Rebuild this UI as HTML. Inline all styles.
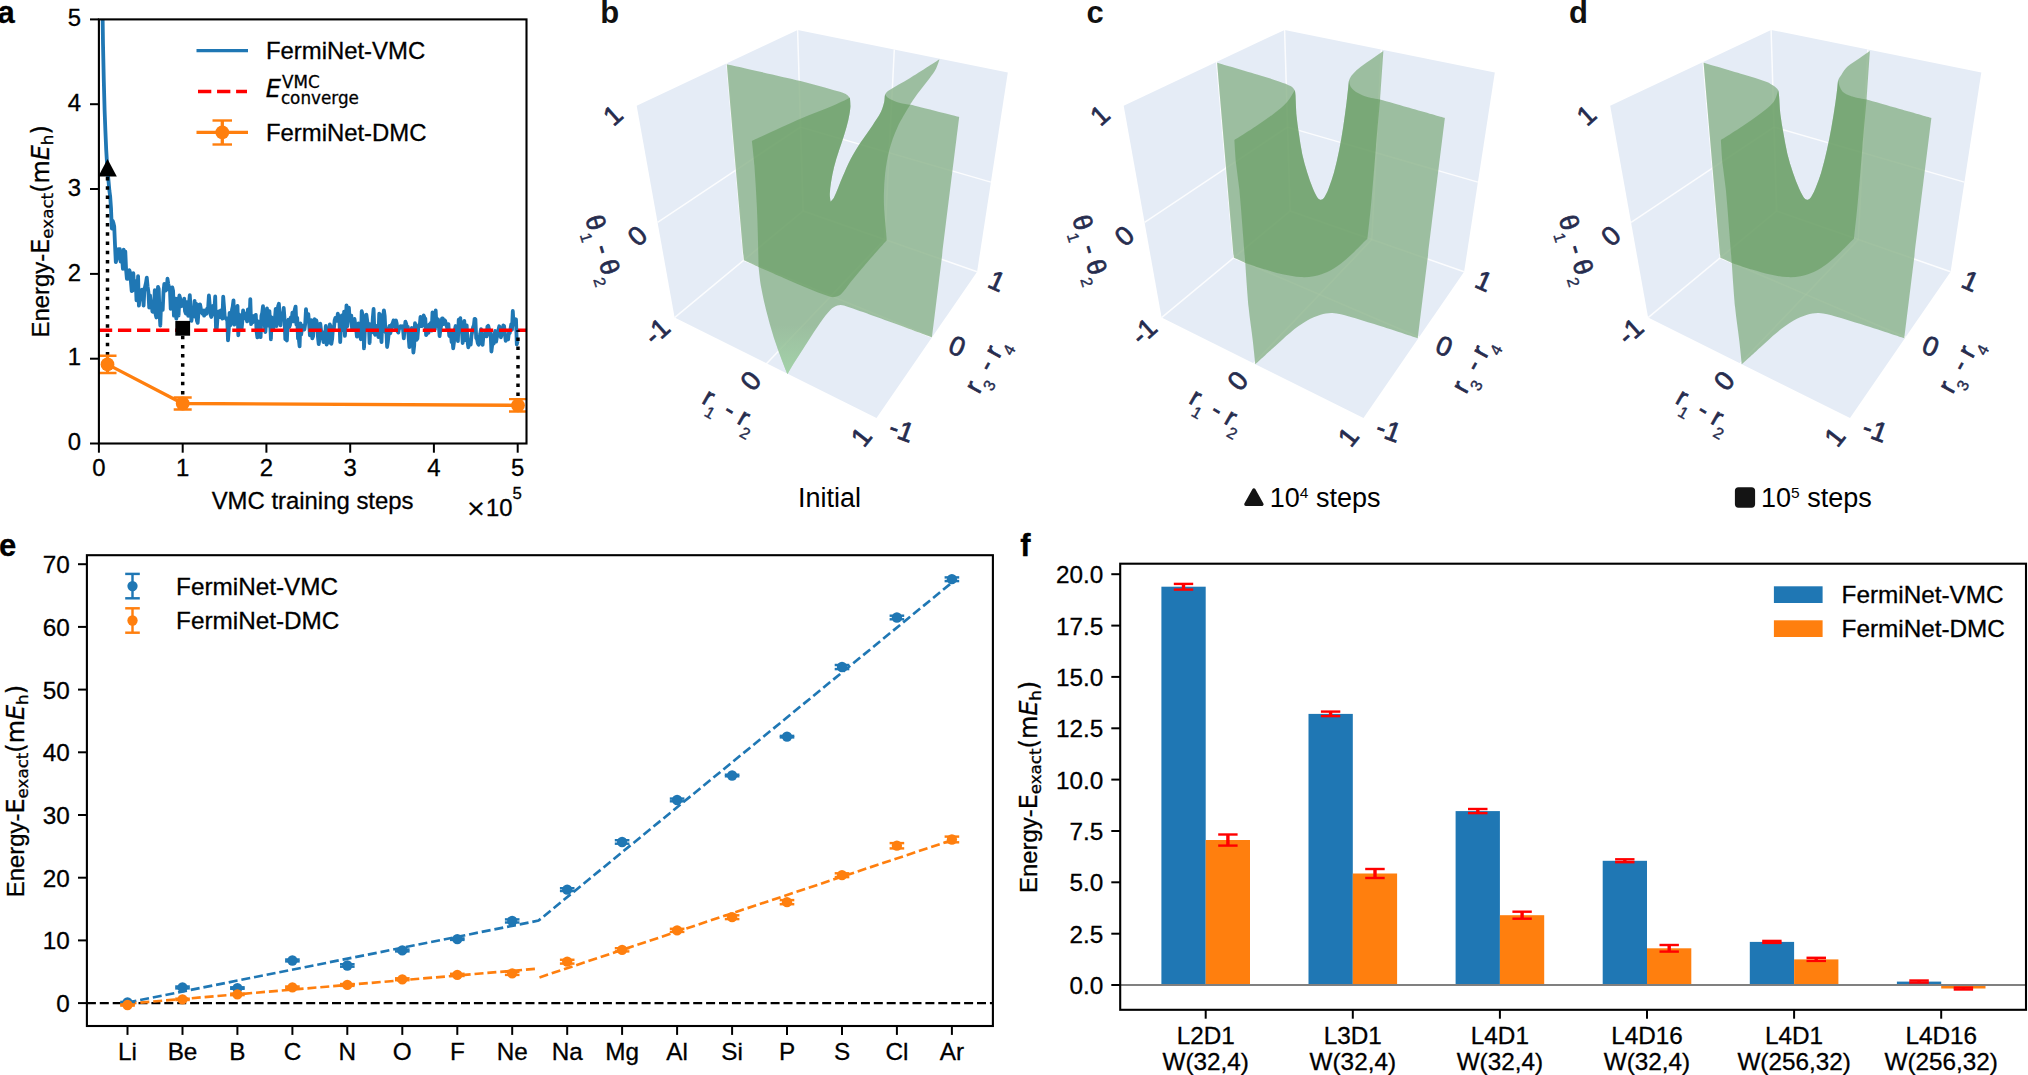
<!DOCTYPE html>
<html><head><meta charset="utf-8"><title>Figure</title>
<style>html,body{margin:0;padding:0;background:#fff;overflow:hidden}svg{display:block}.mp text{stroke:#000;stroke-width:0.3px}</style>
</head><body>
<svg width="2028" height="1075" viewBox="0 0 2028 1075" font-family="'Liberation Sans', sans-serif" fill="#000">
<rect width="2028" height="1075" fill="#fff"/>
<g class="mp">
<clipPath id="clipA"><rect x="98.9" y="19.4" width="427.6" height="424.1"/></clipPath>
<g clip-path="url(#clipA)">
<path d="M102.3 -6.0 L103.0 44.0 L103.8 80.8 L104.6 110.2 L105.4 131.1 L106.2 149.6 L107.0 163.2 L107.8 173.0 L108.6 182.0 L109.4 190.8 L110.2 196.8 L111.0 208.1 L111.8 228.5 L112.6 220.6 L113.4 222.9 L114.2 226.4 L115.0 244.9 L115.8 262.1 L116.6 259.5 L117.4 256.3 L118.2 249.2 L119.0 252.2 L119.8 249.2 L120.6 261.7 L121.3 257.7 L122.1 256.8 L122.9 268.8 L123.7 249.7 L124.5 254.4 L125.3 251.5 L126.1 270.1 L126.9 278.8 L127.7 278.8 L128.5 277.4 L129.3 270.2 L130.1 272.6 L130.9 281.7 L131.7 291.0 L132.5 290.6 L133.3 273.2 L134.1 288.8 L134.9 284.0 L135.7 281.1 L136.5 300.4 L137.3 291.8 L138.1 276.2 L138.9 305.6 L139.6 298.7 L140.4 294.4 L141.2 299.4 L142.0 289.7 L142.8 291.7 L143.6 305.6 L144.4 289.8 L145.2 286.2 L146.0 282.8 L146.8 277.6 L147.6 286.2 L148.4 292.0 L149.2 307.6 L150.0 295.3 L150.8 302.4 L151.6 303.6 L152.4 311.6 L153.2 311.8 L154.0 308.0 L154.8 290.1 L155.6 314.3 L156.4 317.5 L157.2 303.0 L158.0 286.8 L158.7 288.9 L159.5 312.2 L160.3 325.7 L161.1 303.8 L161.9 305.9 L162.7 309.8 L163.5 291.7 L164.3 283.9 L165.1 289.5 L165.9 290.4 L166.7 289.4 L167.5 278.7 L168.3 284.1 L169.1 287.3 L169.9 288.6 L170.7 308.9 L171.5 290.3 L172.3 287.4 L173.1 290.9 L173.9 315.6 L174.7 312.6 L175.5 298.7 L176.3 318.7 L177.0 311.4 L177.8 298.4 L178.6 315.7 L179.4 295.5 L180.2 298.5 L181.0 306.3 L181.8 305.0 L182.6 301.8 L183.4 305.9 L184.2 298.6 L185.0 311.1 L185.8 313.5 L186.6 302.1 L187.4 306.6 L188.2 315.8 L189.0 303.7 L189.8 295.2 L190.6 308.4 L191.4 320.9 L192.2 315.1 L193.0 313.5 L193.8 314.4 L194.6 300.8 L195.3 316.8 L196.1 303.6 L196.9 320.6 L197.7 322.9 L198.5 312.2 L199.3 304.6 L200.1 304.5 L200.9 308.9 L201.7 312.4 L202.5 313.6 L203.3 310.5 L204.1 315.7 L204.9 313.7 L205.7 310.3 L206.5 313.8 L207.3 308.4 L208.1 308.0 L208.9 295.5 L209.7 305.0 L210.5 314.4 L211.3 317.0 L212.1 314.7 L212.9 305.9 L213.7 313.3 L214.4 309.8 L215.2 296.5 L216.0 328.8 L216.8 328.1 L217.6 316.6 L218.4 311.5 L219.2 311.3 L220.0 317.1 L220.8 310.3 L221.6 311.3 L222.4 318.7 L223.2 296.7 L224.0 306.6 L224.8 317.8 L225.6 318.1 L226.4 319.3 L227.2 318.4 L228.0 340.4 L228.8 329.3 L229.6 312.8 L230.4 325.1 L231.2 320.1 L232.0 309.7 L232.7 306.7 L233.5 300.3 L234.3 324.7 L235.1 321.9 L235.9 320.9 L236.7 312.6 L237.5 305.8 L238.3 335.3 L239.1 314.3 L239.9 328.4 L240.7 315.9 L241.5 330.1 L242.3 321.5 L243.1 310.3 L243.9 318.0 L244.7 318.3 L245.5 313.6 L246.3 317.8 L247.1 321.4 L247.9 309.3 L248.7 309.3 L249.5 320.6 L250.3 299.1 L251.1 324.1 L251.8 315.6 L252.6 322.3 L253.4 321.2 L254.2 315.8 L255.0 317.8 L255.8 314.9 L256.6 331.8 L257.4 337.4 L258.2 321.5 L259.0 329.1 L259.8 332.3 L260.6 337.1 L261.4 316.0 L262.2 313.1 L263.0 306.1 L263.8 324.1 L264.6 322.7 L265.4 332.0 L266.2 319.6 L267.0 308.5 L267.8 325.6 L268.6 311.2 L269.4 311.1 L270.1 320.9 L270.9 339.4 L271.7 317.5 L272.5 322.4 L273.3 328.2 L274.1 321.7 L274.9 319.1 L275.7 308.8 L276.5 326.1 L277.3 313.8 L278.1 306.4 L278.9 303.8 L279.7 316.4 L280.5 325.4 L281.3 313.6 L282.1 317.1 L282.9 318.2 L283.7 307.8 L284.5 318.4 L285.3 339.3 L286.1 330.9 L286.9 340.5 L287.7 321.8 L288.4 319.8 L289.2 327.2 L290.0 325.0 L290.8 317.5 L291.6 321.5 L292.4 312.7 L293.2 321.4 L294.0 315.4 L294.8 309.6 L295.6 306.6 L296.4 324.6 L297.2 317.9 L298.0 338.5 L298.8 339.0 L299.6 346.4 L300.4 323.4 L301.2 334.5 L302.0 328.1 L302.8 327.2 L303.6 325.5 L304.4 329.6 L305.2 324.1 L306.0 309.2 L306.8 318.8 L307.5 318.2 L308.3 314.2 L309.1 323.1 L309.9 335.4 L310.7 334.1 L311.5 320.2 L312.3 338.4 L313.1 336.3 L313.9 322.3 L314.7 319.3 L315.5 325.0 L316.3 320.4 L317.1 324.1 L317.9 336.6 L318.7 344.1 L319.5 338.8 L320.3 323.7 L321.1 330.6 L321.9 335.6 L322.7 335.9 L323.5 342.1 L324.3 332.2 L325.1 337.3 L325.8 326.0 L326.6 344.6 L327.4 328.5 L328.2 330.9 L329.0 342.7 L329.8 324.5 L330.6 326.5 L331.4 343.8 L332.2 338.6 L333.0 327.3 L333.8 329.8 L334.6 320.6 L335.4 317.8 L336.2 317.8 L337.0 320.8 L337.8 313.6 L338.6 316.8 L339.4 319.8 L340.2 342.1 L341.0 324.9 L341.8 315.4 L342.6 325.4 L343.4 330.2 L344.1 311.6 L344.9 335.9 L345.7 325.5 L346.5 305.4 L347.3 326.3 L348.1 319.9 L348.9 307.6 L349.7 320.1 L350.5 318.7 L351.3 315.5 L352.1 329.6 L352.9 327.9 L353.7 324.3 L354.5 318.9 L355.3 324.5 L356.1 328.1 L356.9 336.6 L357.7 334.4 L358.5 323.5 L359.3 326.5 L360.1 335.8 L360.9 339.2 L361.7 311.2 L362.5 314.2 L363.2 319.5 L364.0 348.4 L364.8 331.5 L365.6 326.7 L366.4 314.7 L367.2 320.8 L368.0 326.9 L368.8 323.8 L369.6 343.2 L370.4 324.8 L371.2 324.1 L372.0 332.3 L372.8 318.1 L373.6 309.0 L374.4 332.6 L375.2 334.8 L376.0 327.6 L376.8 326.1 L377.6 330.5 L378.4 337.1 L379.2 313.7 L380.0 314.7 L380.8 334.0 L381.5 342.1 L382.3 319.6 L383.1 317.8 L383.9 310.3 L384.7 316.1 L385.5 332.2 L386.3 328.3 L387.1 347.0 L387.9 341.6 L388.7 333.7 L389.5 325.8 L390.3 333.3 L391.1 330.5 L391.9 324.5 L392.7 323.2 L393.5 320.4 L394.3 322.5 L395.1 327.2 L395.9 320.3 L396.7 323.5 L397.5 331.3 L398.3 332.6 L399.1 328.5 L399.8 328.1 L400.6 326.2 L401.4 327.0 L402.2 326.3 L403.0 328.7 L403.8 338.4 L404.6 329.3 L405.4 321.6 L406.2 323.8 L407.0 329.5 L407.8 326.8 L408.6 336.7 L409.4 347.2 L410.2 336.0 L411.0 339.6 L411.8 328.0 L412.6 337.7 L413.4 352.6 L414.2 345.6 L415.0 323.2 L415.8 330.0 L416.6 339.8 L417.4 338.5 L418.2 328.3 L418.9 324.9 L419.7 326.1 L420.5 316.8 L421.3 319.5 L422.1 326.2 L422.9 324.0 L423.7 315.5 L424.5 317.9 L425.3 318.6 L426.1 335.1 L426.9 334.0 L427.7 327.1 L428.5 332.7 L429.3 324.4 L430.1 325.1 L430.9 323.0 L431.7 330.6 L432.5 312.3 L433.3 315.6 L434.1 327.6 L434.9 329.2 L435.7 310.5 L436.5 325.9 L437.2 321.7 L438.0 319.2 L438.8 325.4 L439.6 336.2 L440.4 329.5 L441.2 325.7 L442.0 318.4 L442.8 318.4 L443.6 324.2 L444.4 320.0 L445.2 321.0 L446.0 324.1 L446.8 326.4 L447.6 329.7 L448.4 324.1 L449.2 335.5 L450.0 336.5 L450.8 332.2 L451.6 342.0 L452.4 337.8 L453.2 348.3 L454.0 341.9 L454.8 330.2 L455.6 326.0 L456.3 329.2 L457.1 331.5 L457.9 341.1 L458.7 319.7 L459.5 322.0 L460.3 318.2 L461.1 331.7 L461.9 331.0 L462.7 343.0 L463.5 327.5 L464.3 320.9 L465.1 340.1 L465.9 332.9 L466.7 325.4 L467.5 341.1 L468.3 347.3 L469.1 344.0 L469.9 339.9 L470.7 344.6 L471.5 335.7 L472.3 331.2 L473.1 327.0 L473.9 325.3 L474.6 318.8 L475.4 319.2 L476.2 338.2 L477.0 338.8 L477.8 343.1 L478.6 344.7 L479.4 337.6 L480.2 334.2 L481.0 329.2 L481.8 342.9 L482.6 344.8 L483.4 336.0 L484.2 334.0 L485.0 333.9 L485.8 331.9 L486.6 336.3 L487.4 326.6 L488.2 325.8 L489.0 328.9 L489.8 334.4 L490.6 332.7 L491.4 351.5 L492.2 345.1 L492.9 335.3 L493.7 343.7 L494.5 333.9 L495.3 331.0 L496.1 341.7 L496.9 337.0 L497.7 335.9 L498.5 329.7 L499.3 326.3 L500.1 329.9 L500.9 337.3 L501.7 334.3 L502.5 332.4 L503.3 325.5 L504.1 326.1 L504.9 333.7 L505.7 340.9 L506.5 335.8 L507.3 336.5 L508.1 339.4 L508.9 332.8 L509.7 333.2 L510.5 328.8 L511.3 324.1 L512.0 329.7 L512.8 311.0 L513.6 324.8 L514.4 319.0 L515.2 324.7 L516.0 319.5 L516.8 344.4 L517.6 341.1" fill="none" stroke="#1f77b4" stroke-width="3.8" stroke-linejoin="round" stroke-linecap="butt"/>
<line x1="98.9" y1="330.3" x2="526.5" y2="330.3" stroke="#ff0000" stroke-width="3.6" stroke-dasharray="13.3 5.75"/>
<line x1="107.5" y1="364.6" x2="107.5" y2="168" stroke="#000" stroke-width="3.5" stroke-dasharray="3.5 5.7"/>
<line x1="182.7" y1="403.6" x2="182.7" y2="328.3" stroke="#000" stroke-width="3.5" stroke-dasharray="3.5 5.7"/>
<line x1="518" y1="405.3" x2="518" y2="330.3" stroke="#000" stroke-width="3.5" stroke-dasharray="3.5 5.7"/>
<polyline points="107.5,364.4 182.7,403.5 518.0,405.3" fill="none" stroke="#ff7f0e" stroke-width="3.3"/>
<line x1="107.5" y1="355.8" x2="107.5" y2="373" stroke="#ff7f0e" stroke-width="3.3" />
<line x1="98.5" y1="355.8" x2="116.5" y2="355.8" stroke="#ff7f0e" stroke-width="2.4" />
<line x1="98.5" y1="373" x2="116.5" y2="373" stroke="#ff7f0e" stroke-width="2.4" />
<circle cx="107.5" cy="364.4" r="6.9" fill="#ff7f0e"/>
<line x1="182.7" y1="397.5" x2="182.7" y2="409.5" stroke="#ff7f0e" stroke-width="3.3" />
<line x1="173.7" y1="397.5" x2="191.7" y2="397.5" stroke="#ff7f0e" stroke-width="2.4" />
<line x1="173.7" y1="409.5" x2="191.7" y2="409.5" stroke="#ff7f0e" stroke-width="2.4" />
<circle cx="182.7" cy="403.5" r="6.9" fill="#ff7f0e"/>
<line x1="518" y1="399.1" x2="518" y2="411.5" stroke="#ff7f0e" stroke-width="3.3" />
<line x1="509" y1="399.1" x2="527" y2="399.1" stroke="#ff7f0e" stroke-width="2.4" />
<line x1="509" y1="411.5" x2="527" y2="411.5" stroke="#ff7f0e" stroke-width="2.4" />
<circle cx="518" cy="405.3" r="6.9" fill="#ff7f0e"/>
<polygon points="107.5,158.9 98.3,176.6 116.8,176.6" fill="#000"/>
<rect x="175.3" y="320.9" width="14.8" height="14.8" fill="#000"/>
</g>
<rect x="98.9" y="19.4" width="427.6" height="424.1" fill="none" stroke="#000" stroke-width="2.1"/>
<line x1="90" y1="443.5" x2="98.9" y2="443.5" stroke="#000" stroke-width="2.0" />
<text x="81" y="450.1" font-size="23.9" text-anchor="end" >0</text>
<line x1="98.9" y1="443.5" x2="98.9" y2="452.7" stroke="#000" stroke-width="2.0" />
<text x="98.9" y="475.6" font-size="23.9" text-anchor="middle" >0</text>
<line x1="90" y1="358.7" x2="98.9" y2="358.7" stroke="#000" stroke-width="2.0" />
<text x="81" y="365.3" font-size="23.9" text-anchor="end" >1</text>
<line x1="182.7" y1="443.5" x2="182.7" y2="452.7" stroke="#000" stroke-width="2.0" />
<text x="182.7" y="475.6" font-size="23.9" text-anchor="middle" >1</text>
<line x1="90" y1="273.9" x2="98.9" y2="273.9" stroke="#000" stroke-width="2.0" />
<text x="81" y="280.5" font-size="23.9" text-anchor="end" >2</text>
<line x1="266.4" y1="443.5" x2="266.4" y2="452.7" stroke="#000" stroke-width="2.0" />
<text x="266.4" y="475.6" font-size="23.9" text-anchor="middle" >2</text>
<line x1="90" y1="189" x2="98.9" y2="189" stroke="#000" stroke-width="2.0" />
<text x="81" y="195.6" font-size="23.9" text-anchor="end" >3</text>
<line x1="350.2" y1="443.5" x2="350.2" y2="452.7" stroke="#000" stroke-width="2.0" />
<text x="350.2" y="475.6" font-size="23.9" text-anchor="middle" >3</text>
<line x1="90" y1="104.2" x2="98.9" y2="104.2" stroke="#000" stroke-width="2.0" />
<text x="81" y="110.8" font-size="23.9" text-anchor="end" >4</text>
<line x1="433.9" y1="443.5" x2="433.9" y2="452.7" stroke="#000" stroke-width="2.0" />
<text x="433.9" y="475.6" font-size="23.9" text-anchor="middle" >4</text>
<line x1="90" y1="19.4" x2="98.9" y2="19.4" stroke="#000" stroke-width="2.0" />
<text x="81" y="26" font-size="23.9" text-anchor="end" >5</text>
<line x1="517.7" y1="443.5" x2="517.7" y2="452.7" stroke="#000" stroke-width="2.0" />
<text x="517.7" y="475.6" font-size="23.9" text-anchor="middle" >5</text>
<text x="312.6" y="509.1" font-size="23.9" text-anchor="middle" >VMC training steps</text>
<text x="466" y="515.6" font-size="23.8"><tspan font-family="'DejaVu Sans', sans-serif">×</tspan><tspan>10</tspan><tspan dy="-16.8" font-size="16.8">5</tspan></text>
<text transform="translate(49 335.5) rotate(-90)" x="-1.9" y="0" font-size="23.9">Energy-<tspan font-family="'DejaVu Sans', sans-serif">E</tspan><tspan font-family="'DejaVu Sans', sans-serif" font-size="16.7" dy="4.0">exact</tspan><tspan font-family="'DejaVu Sans', sans-serif" dy="-4.0">(m</tspan><tspan font-family="'DejaVu Sans', sans-serif" font-style="italic">E</tspan><tspan font-family="'DejaVu Sans', sans-serif" font-size="16.7" dy="4.0">h</tspan><tspan font-family="'DejaVu Sans', sans-serif" dy="-4.0">)</tspan></text>
<line x1="196.5" y1="50.7" x2="248" y2="50.7" stroke="#1f77b4" stroke-width="3.3" />
<text x="265.9" y="59.1" font-size="23.9" text-anchor="start" >FermiNet-VMC</text>
<line x1="198" y1="91.5" x2="247" y2="91.5" stroke="#ff0000" stroke-width="3.6" stroke-dasharray="13.3 5.75"/>
<text x="265.8" y="97.4" font-size="24" font-style="italic" font-family="'DejaVu Sans', sans-serif">E</text>
<text x="282.1" y="88.4" font-size="16.8" font-family="'DejaVu Sans', sans-serif">VMC</text>
<text x="280.9" y="103.8" font-size="16.8" font-family="'DejaVu Sans', sans-serif">converge</text>
<line x1="196.5" y1="132.4" x2="248" y2="132.4" stroke="#ff7f0e" stroke-width="3.3" />
<line x1="222.3" y1="120.5" x2="222.3" y2="144.5" stroke="#ff7f0e" stroke-width="3.3" />
<line x1="212.5" y1="120.5" x2="232" y2="120.5" stroke="#ff7f0e" stroke-width="2.4" />
<line x1="212.5" y1="144.5" x2="232" y2="144.5" stroke="#ff7f0e" stroke-width="2.4" />
<circle cx="222.3" cy="132.4" r="6.9" fill="#ff7f0e"/>
<text x="265.9" y="141" font-size="23.9" text-anchor="start" >FermiNet-DMC</text>
<text x="-2.4" y="22.8" font-size="31" text-anchor="start" font-weight="bold">a</text>
</g>
<polygon points="636.7,105.7 797.6,29.9 1007.8,72.5 977.1,271.7 876.5,418.1 674.6,317.6" fill="#e5ecf6"/>
<line x1="797.6" y1="29.9" x2="803.1" y2="211" stroke="#fff" stroke-width="1.5" stroke-opacity="0.85"/>
<line x1="674.6" y1="317.6" x2="803.1" y2="211" stroke="#fff" stroke-width="1.5" stroke-opacity="0.85"/>
<line x1="803.1" y1="211" x2="977.1" y2="271.7" stroke="#fff" stroke-width="1.5" stroke-opacity="0.85"/>
<line x1="657.6" y1="222.4" x2="800.5" y2="127.1" stroke="#fff" stroke-width="1.5" stroke-opacity="0.85"/>
<line x1="800.5" y1="127.1" x2="990.9" y2="182.1" stroke="#fff" stroke-width="1.5" stroke-opacity="0.85"/>
<line x1="726.8" y1="63.3" x2="743.9" y2="260.3" stroke="#fff" stroke-width="1.5" stroke-opacity="0.85"/>
<line x1="894.3" y1="49.5" x2="884.8" y2="239.5" stroke="#fff" stroke-width="1.5" stroke-opacity="0.85"/>
<line x1="743.9" y1="260.3" x2="932" y2="337.3" stroke="#fff" stroke-width="1.5" stroke-opacity="0.85"/>
<line x1="766.2" y1="364.1" x2="884.8" y2="239.5" stroke="#fff" stroke-width="1.5" stroke-opacity="0.85"/>
<clipPath id="cu1"><path d="M726.8 64.3 C726.8 64.3 776.0 75.1 800.5 81.0 C811.8 83.7 822.9 87.0 834.0 90.2 C837.9 91.3 842.0 92.1 845.7 93.9 C847.4 94.7 849.9 97.8 849.9 97.8 C849.9 97.8 850.6 103.9 850.4 107.0 C850.1 111.5 849.2 116.0 848.2 120.4 C847.1 125.5 845.5 130.5 844.0 135.5 C842.5 140.5 840.6 145.5 839.0 150.5 C837.2 156.1 835.4 161.6 834.0 167.3 C832.8 172.3 831.8 177.3 831.0 182.4 C830.4 186.3 829.9 190.2 829.8 194.1 C829.7 196.6 830.6 201.6 830.6 201.6 C830.6 201.6 833.2 199.0 834.0 197.4 C837.2 190.9 839.5 184.0 842.4 177.3 C845.1 171.1 847.6 164.9 850.7 158.9 C853.7 153.1 857.3 147.7 860.8 142.2 C864.5 136.5 868.7 131.1 872.5 125.4 C875.4 121.0 878.5 116.7 880.9 112.0 C882.5 108.9 883.4 105.4 884.2 102.0 C884.8 99.5 884.1 96.7 885.1 94.4 C885.9 92.6 887.6 91.3 889.2 90.2 C895.7 85.9 902.7 82.6 909.3 78.5 C919.5 72.3 939.5 59.3 939.5 59.3 C939.5 59.3 937.6 65.6 936.1 68.5 C934.2 72.1 931.8 75.3 929.4 78.5 C925.6 83.6 921.5 88.5 917.7 93.6 C915.1 97.1 910.2 104.5 910.2 104.5 C910.2 104.5 959.2 117.0 959.2 117.0 C959.2 117.0 932.0 337.3 932.0 337.3 C932.0 337.3 873.6 315.4 844.0 305.5 C841.9 304.8 839.4 304.8 837.3 305.5 C834.8 306.3 832.5 307.8 830.6 309.7 C826.8 313.5 823.7 317.9 820.6 322.3 C815.9 328.8 811.6 335.7 807.2 342.4 C802.7 349.3 798.2 356.3 793.8 363.3 C791.6 366.9 787.4 374.2 787.4 374.2 C787.4 374.2 783.8 365.3 782.1 360.8 C779.2 353.0 776.2 345.2 773.7 337.3 C770.9 328.5 768.5 319.5 766.2 310.5 C764.3 302.8 762.5 295.0 761.1 287.1 C759.9 280.4 758.6 267.0 758.6 267.0 C758.6 267.0 743.9 260.3 743.9 260.3 C743.9 260.3 726.8 64.3 726.8 64.3Z"/></clipPath>
<path d="M726.8 64.3 C726.8 64.3 776.0 75.1 800.5 81.0 C811.8 83.7 822.9 87.0 834.0 90.2 C837.9 91.3 842.0 92.1 845.7 93.9 C847.4 94.7 849.9 97.8 849.9 97.8 C849.9 97.8 850.6 103.9 850.4 107.0 C850.1 111.5 849.2 116.0 848.2 120.4 C847.1 125.5 845.5 130.5 844.0 135.5 C842.5 140.5 840.6 145.5 839.0 150.5 C837.2 156.1 835.4 161.6 834.0 167.3 C832.8 172.3 831.8 177.3 831.0 182.4 C830.4 186.3 829.9 190.2 829.8 194.1 C829.7 196.6 830.6 201.6 830.6 201.6 C830.6 201.6 833.2 199.0 834.0 197.4 C837.2 190.9 839.5 184.0 842.4 177.3 C845.1 171.1 847.6 164.9 850.7 158.9 C853.7 153.1 857.3 147.7 860.8 142.2 C864.5 136.5 868.7 131.1 872.5 125.4 C875.4 121.0 878.5 116.7 880.9 112.0 C882.5 108.9 883.4 105.4 884.2 102.0 C884.8 99.5 884.1 96.7 885.1 94.4 C885.9 92.6 887.6 91.3 889.2 90.2 C895.7 85.9 902.7 82.6 909.3 78.5 C919.5 72.3 939.5 59.3 939.5 59.3 C939.5 59.3 937.6 65.6 936.1 68.5 C934.2 72.1 931.8 75.3 929.4 78.5 C925.6 83.6 921.5 88.5 917.7 93.6 C915.1 97.1 910.2 104.5 910.2 104.5 C910.2 104.5 959.2 117.0 959.2 117.0 C959.2 117.0 932.0 337.3 932.0 337.3 C932.0 337.3 873.6 315.4 844.0 305.5 C841.9 304.8 839.4 304.8 837.3 305.5 C834.8 306.3 832.5 307.8 830.6 309.7 C826.8 313.5 823.7 317.9 820.6 322.3 C815.9 328.8 811.6 335.7 807.2 342.4 C802.7 349.3 798.2 356.3 793.8 363.3 C791.6 366.9 787.4 374.2 787.4 374.2 C787.4 374.2 783.8 365.3 782.1 360.8 C779.2 353.0 776.2 345.2 773.7 337.3 C770.9 328.5 768.5 319.5 766.2 310.5 C764.3 302.8 762.5 295.0 761.1 287.1 C759.9 280.4 758.6 267.0 758.6 267.0 C758.6 267.0 743.9 260.3 743.9 260.3 C743.9 260.3 726.8 64.3 726.8 64.3Z" fill="#e5ecf6"/>
<g clip-path="url(#cu1)">
<line x1="797.6" y1="29.9" x2="803.1" y2="211" stroke="#fff" stroke-width="1.5" stroke-opacity="0.4"/>
<line x1="674.6" y1="317.6" x2="803.1" y2="211" stroke="#fff" stroke-width="1.5" stroke-opacity="0.4"/>
<line x1="803.1" y1="211" x2="977.1" y2="271.7" stroke="#fff" stroke-width="1.5" stroke-opacity="0.4"/>
<line x1="657.6" y1="222.4" x2="800.5" y2="127.1" stroke="#fff" stroke-width="1.5" stroke-opacity="0.4"/>
<line x1="800.5" y1="127.1" x2="990.9" y2="182.1" stroke="#fff" stroke-width="1.5" stroke-opacity="0.4"/>
<line x1="726.8" y1="63.3" x2="743.9" y2="260.3" stroke="#fff" stroke-width="1.5" stroke-opacity="0.4"/>
<line x1="894.3" y1="49.5" x2="884.8" y2="239.5" stroke="#fff" stroke-width="1.5" stroke-opacity="0.4"/>
<line x1="743.9" y1="260.3" x2="932" y2="337.3" stroke="#fff" stroke-width="1.5" stroke-opacity="0.4"/>
<line x1="766.2" y1="364.1" x2="884.8" y2="239.5" stroke="#fff" stroke-width="1.5" stroke-opacity="0.4"/>
</g>
<path d="M726.8 64.3 C726.8 64.3 776.0 75.1 800.5 81.0 C811.8 83.7 822.9 87.0 834.0 90.2 C837.9 91.3 842.0 92.1 845.7 93.9 C847.4 94.7 849.9 97.8 849.9 97.8 C849.9 97.8 850.6 103.9 850.4 107.0 C850.1 111.5 849.2 116.0 848.2 120.4 C847.1 125.5 845.5 130.5 844.0 135.5 C842.5 140.5 840.6 145.5 839.0 150.5 C837.2 156.1 835.4 161.6 834.0 167.3 C832.8 172.3 831.8 177.3 831.0 182.4 C830.4 186.3 829.9 190.2 829.8 194.1 C829.7 196.6 830.6 201.6 830.6 201.6 C830.6 201.6 833.2 199.0 834.0 197.4 C837.2 190.9 839.5 184.0 842.4 177.3 C845.1 171.1 847.6 164.9 850.7 158.9 C853.7 153.1 857.3 147.7 860.8 142.2 C864.5 136.5 868.7 131.1 872.5 125.4 C875.4 121.0 878.5 116.7 880.9 112.0 C882.5 108.9 883.4 105.4 884.2 102.0 C884.8 99.5 884.1 96.7 885.1 94.4 C885.9 92.6 887.6 91.3 889.2 90.2 C895.7 85.9 902.7 82.6 909.3 78.5 C919.5 72.3 939.5 59.3 939.5 59.3 C939.5 59.3 937.6 65.6 936.1 68.5 C934.2 72.1 931.8 75.3 929.4 78.5 C925.6 83.6 921.5 88.5 917.7 93.6 C915.1 97.1 910.2 104.5 910.2 104.5 C910.2 104.5 959.2 117.0 959.2 117.0 C959.2 117.0 932.0 337.3 932.0 337.3 C932.0 337.3 873.6 315.4 844.0 305.5 C841.9 304.8 839.4 304.8 837.3 305.5 C834.8 306.3 832.5 307.8 830.6 309.7 C826.8 313.5 823.7 317.9 820.6 322.3 C815.9 328.8 811.6 335.7 807.2 342.4 C802.7 349.3 798.2 356.3 793.8 363.3 C791.6 366.9 787.4 374.2 787.4 374.2 C787.4 374.2 783.8 365.3 782.1 360.8 C779.2 353.0 776.2 345.2 773.7 337.3 C770.9 328.5 768.5 319.5 766.2 310.5 C764.3 302.8 762.5 295.0 761.1 287.1 C759.9 280.4 758.6 267.0 758.6 267.0 C758.6 267.0 743.9 260.3 743.9 260.3 C743.9 260.3 726.8 64.3 726.8 64.3Z" fill="rgb(90,149,84)" fill-opacity="0.53"/>
<path d="M751.9 141.0 C751.9 141.0 784.2 125.8 800.5 118.7 C811.5 113.9 822.9 110.0 834.0 105.3 C839.4 103.0 849.9 97.8 849.9 97.8 C849.9 97.8 850.6 103.9 850.4 107.0 C850.1 111.5 849.2 116.0 848.2 120.4 C847.1 125.5 845.5 130.5 844.0 135.5 C842.5 140.5 840.6 145.5 839.0 150.5 C837.2 156.1 835.4 161.6 834.0 167.3 C832.8 172.3 831.8 177.3 831.0 182.4 C830.4 186.3 829.9 190.2 829.8 194.1 C829.7 196.6 830.6 201.6 830.6 201.6 C830.6 201.6 833.2 199.0 834.0 197.4 C837.2 190.9 839.5 184.0 842.4 177.3 C845.1 171.1 847.6 164.9 850.7 158.9 C853.7 153.1 857.3 147.7 860.8 142.2 C864.5 136.5 868.7 131.1 872.5 125.4 C875.4 121.0 878.5 116.7 880.9 112.0 C882.5 108.9 883.4 105.4 884.2 102.0 C884.8 99.5 885.1 94.4 885.1 94.4 C885.1 94.4 886.6 96.7 887.6 97.5 C889.1 98.7 890.8 99.5 892.6 100.3 C895.3 101.5 898.1 102.6 901.0 103.3 C904.0 104.1 910.2 104.8 910.2 104.8 C910.2 104.8 901.2 119.3 897.6 127.1 C894.1 134.6 891.3 142.5 889.2 150.5 C887.2 158.2 886.1 166.1 885.1 174.0 C884.3 180.7 884.1 187.4 883.9 194.1 C883.8 199.4 883.9 204.7 884.2 210.0 C884.6 216.7 885.3 223.4 885.9 230.1 C886.2 233.5 886.7 240.2 886.7 240.2 C886.7 240.2 873.8 254.7 867.5 262.0 C861.8 268.6 856.2 275.4 850.7 282.1 C847.3 286.2 844.7 291.0 840.7 294.6 C838.9 296.2 836.4 296.9 834.0 297.1 C831.7 297.3 829.5 296.5 827.3 295.8 C821.1 293.7 815.0 291.3 808.9 288.8 C800.4 285.3 792.1 281.5 783.7 277.9 C775.3 274.3 758.6 267.0 758.6 267.0 C758.6 267.0 758.1 244.7 757.8 233.5 C757.6 224.8 757.3 216.2 756.9 207.5 C756.2 193.5 755.4 179.6 754.4 165.6 C753.8 157.4 751.9 141.0 751.9 141.0Z" fill="rgb(90,149,84)" fill-opacity="0.53"/>
<defs><linearGradient id="tailg" x1="0" y1="325" x2="0" y2="374" gradientUnits="userSpaceOnUse"><stop offset="0" stop-color="#a9e3b0" stop-opacity="0"/><stop offset="1" stop-color="#a9e3b0" stop-opacity="0.55"/></linearGradient></defs>
<polygon points="769.5,325 773.7,337.3 782.1,360.8 787.4,374.2 793.8,363.3 807.2,342.4 818.5,325" fill="url(#tailg)"/>
<text transform="translate(612.6 115) rotate(-42)" text-anchor="middle" font-size="27" fill="#262c4e" stroke="#262c4e" stroke-width="0.7" y="9.7">1</text>
<text transform="translate(637.2 235.6) rotate(-42)" text-anchor="middle" font-size="27" fill="#262c4e" stroke="#262c4e" stroke-width="0.7" y="9.7">0</text>
<text transform="translate(656.6 331.1) rotate(-42)" text-anchor="middle" font-size="27" fill="#262c4e" stroke="#262c4e" stroke-width="0.7" y="9.7">-1</text>
<text transform="translate(604.3 249) rotate(73)" text-anchor="middle" font-size="26" fill="#262c4e" stroke="#262c4e" stroke-width="0.7" y="9.4">θ<tspan dy="10" font-size="16" stroke-width="0.4">1</tspan><tspan dy="-10"> - θ</tspan><tspan dy="10" font-size="16" stroke-width="0.4">2</tspan></text>
<text transform="translate(750.3 380.6) rotate(-50)" text-anchor="middle" font-size="27" fill="#262c4e" stroke="#262c4e" stroke-width="0.7" y="9.7">0</text>
<text transform="translate(860.9 436.7) rotate(-52)" text-anchor="middle" font-size="27" fill="#262c4e" stroke="#262c4e" stroke-width="0.7" y="9.7">1</text>
<text transform="translate(730.6 408.8) rotate(30)" text-anchor="middle" font-size="26" fill="#262c4e" stroke="#262c4e" stroke-width="0.7" y="9.4">r<tspan dy="10" font-size="16" stroke-width="0.4">1</tspan><tspan dy="-10"> - r</tspan><tspan dy="10" font-size="16" stroke-width="0.4">2</tspan></text>
<text transform="translate(901.8 429.6) rotate(20)" text-anchor="middle" font-size="27" fill="#262c4e" stroke="#262c4e" stroke-width="0.7" y="9.7">-1</text>
<text transform="translate(957.3 345.9) rotate(22)" text-anchor="middle" font-size="27" fill="#262c4e" stroke="#262c4e" stroke-width="0.7" y="9.7">0</text>
<text transform="translate(997.1 280.6) rotate(24)" text-anchor="middle" font-size="27" fill="#262c4e" stroke="#262c4e" stroke-width="0.7" y="9.7">1</text>
<text transform="translate(985 364.7) rotate(-61)" text-anchor="middle" font-size="26" fill="#262c4e" stroke="#262c4e" stroke-width="0.7" y="9.4">r<tspan dy="10" font-size="16" stroke-width="0.4">3</tspan><tspan dy="-10"> - r</tspan><tspan dy="10" font-size="16" stroke-width="0.4">4</tspan></text>
<polygon points="1123.7,105.7 1284.6,29.9 1494.8,72.5 1464.1,271.7 1363.5,418.1 1161.6,317.6" fill="#e5ecf6"/>
<line x1="1284.6" y1="29.9" x2="1290.1" y2="211" stroke="#fff" stroke-width="1.5" stroke-opacity="0.85"/>
<line x1="1161.6" y1="317.6" x2="1290.1" y2="211" stroke="#fff" stroke-width="1.5" stroke-opacity="0.85"/>
<line x1="1290.1" y1="211" x2="1464.1" y2="271.7" stroke="#fff" stroke-width="1.5" stroke-opacity="0.85"/>
<line x1="1144.6" y1="222.4" x2="1287.5" y2="127.1" stroke="#fff" stroke-width="1.5" stroke-opacity="0.85"/>
<line x1="1287.5" y1="127.1" x2="1477.9" y2="182.1" stroke="#fff" stroke-width="1.5" stroke-opacity="0.85"/>
<line x1="1216.6" y1="61.7" x2="1233.9" y2="257.8" stroke="#fff" stroke-width="1.5" stroke-opacity="0.85"/>
<line x1="1381.3" y1="49.5" x2="1371.8" y2="239.5" stroke="#fff" stroke-width="1.5" stroke-opacity="0.85"/>
<line x1="1233.9" y1="257.8" x2="1419" y2="337.3" stroke="#fff" stroke-width="1.5" stroke-opacity="0.85"/>
<line x1="1253.2" y1="364.1" x2="1371.8" y2="239.5" stroke="#fff" stroke-width="1.5" stroke-opacity="0.85"/>
<clipPath id="cu2"><path d="M1217.1 62.7 C1217.1 62.7 1243.7 70.4 1257.0 74.4 C1264.8 76.8 1272.7 79.2 1280.4 81.9 C1283.8 83.1 1287.4 84.3 1290.5 86.1 C1292.2 87.1 1293.8 88.6 1294.7 90.3 C1295.5 91.8 1295.4 93.6 1295.5 95.3 C1295.9 101.4 1295.8 107.6 1296.3 113.7 C1296.9 120.4 1297.9 127.1 1298.9 133.8 C1299.9 140.5 1300.8 147.3 1302.2 153.9 C1303.5 160.1 1305.3 166.3 1307.2 172.4 C1308.9 178.0 1311.0 183.6 1313.1 189.1 C1314.0 191.3 1315.0 193.5 1316.2 195.6 C1316.8 196.7 1317.5 197.8 1318.4 198.7 C1319.1 199.3 1320.8 199.9 1320.8 199.9 C1320.8 199.9 1322.5 199.3 1323.2 198.7 C1324.1 197.8 1324.8 196.7 1325.4 195.6 C1326.8 192.9 1328.0 190.2 1329.0 187.4 C1330.8 182.5 1332.6 177.5 1334.0 172.4 C1336.0 165.2 1337.6 157.9 1339.1 150.6 C1340.7 142.8 1342.0 135.0 1343.2 127.1 C1344.5 118.8 1345.5 110.4 1346.6 102.0 C1347.2 97.0 1347.7 91.9 1348.3 86.9 C1348.6 84.7 1348.4 82.3 1349.1 80.2 C1349.8 78.1 1351.0 76.1 1352.5 74.4 C1355.0 71.6 1357.9 69.1 1360.8 66.8 C1364.6 63.8 1368.7 61.3 1372.6 58.5 C1376.2 56.0 1383.4 50.9 1383.4 50.9 C1383.4 50.9 1380.1 99.5 1380.1 99.5 C1380.1 99.5 1444.9 117.9 1444.9 117.9 C1444.9 117.9 1417.8 338.2 1417.8 338.2 C1417.8 338.2 1388.8 328.6 1374.2 324.0 C1365.9 321.4 1357.6 318.6 1349.1 316.4 C1343.6 315.0 1338.1 313.4 1332.4 313.1 C1328.4 312.9 1324.4 313.7 1320.6 314.8 C1315.9 316.2 1311.4 318.1 1307.2 320.6 C1301.3 324.0 1295.8 328.1 1290.5 332.4 C1284.6 337.1 1279.3 342.4 1273.7 347.4 C1267.5 353.0 1255.3 364.2 1255.3 364.2 C1255.3 364.2 1253.7 348.5 1252.8 340.7 C1251.5 329.5 1249.7 318.4 1248.6 307.2 C1247.2 292.5 1245.3 262.9 1245.3 262.9 C1245.3 262.9 1233.9 257.8 1233.9 257.8 C1233.9 257.8 1217.1 62.7 1217.1 62.7Z"/></clipPath>
<path d="M1217.1 62.7 C1217.1 62.7 1243.7 70.4 1257.0 74.4 C1264.8 76.8 1272.7 79.2 1280.4 81.9 C1283.8 83.1 1287.4 84.3 1290.5 86.1 C1292.2 87.1 1293.8 88.6 1294.7 90.3 C1295.5 91.8 1295.4 93.6 1295.5 95.3 C1295.9 101.4 1295.8 107.6 1296.3 113.7 C1296.9 120.4 1297.9 127.1 1298.9 133.8 C1299.9 140.5 1300.8 147.3 1302.2 153.9 C1303.5 160.1 1305.3 166.3 1307.2 172.4 C1308.9 178.0 1311.0 183.6 1313.1 189.1 C1314.0 191.3 1315.0 193.5 1316.2 195.6 C1316.8 196.7 1317.5 197.8 1318.4 198.7 C1319.1 199.3 1320.8 199.9 1320.8 199.9 C1320.8 199.9 1322.5 199.3 1323.2 198.7 C1324.1 197.8 1324.8 196.7 1325.4 195.6 C1326.8 192.9 1328.0 190.2 1329.0 187.4 C1330.8 182.5 1332.6 177.5 1334.0 172.4 C1336.0 165.2 1337.6 157.9 1339.1 150.6 C1340.7 142.8 1342.0 135.0 1343.2 127.1 C1344.5 118.8 1345.5 110.4 1346.6 102.0 C1347.2 97.0 1347.7 91.9 1348.3 86.9 C1348.6 84.7 1348.4 82.3 1349.1 80.2 C1349.8 78.1 1351.0 76.1 1352.5 74.4 C1355.0 71.6 1357.9 69.1 1360.8 66.8 C1364.6 63.8 1368.7 61.3 1372.6 58.5 C1376.2 56.0 1383.4 50.9 1383.4 50.9 C1383.4 50.9 1380.1 99.5 1380.1 99.5 C1380.1 99.5 1444.9 117.9 1444.9 117.9 C1444.9 117.9 1417.8 338.2 1417.8 338.2 C1417.8 338.2 1388.8 328.6 1374.2 324.0 C1365.9 321.4 1357.6 318.6 1349.1 316.4 C1343.6 315.0 1338.1 313.4 1332.4 313.1 C1328.4 312.9 1324.4 313.7 1320.6 314.8 C1315.9 316.2 1311.4 318.1 1307.2 320.6 C1301.3 324.0 1295.8 328.1 1290.5 332.4 C1284.6 337.1 1279.3 342.4 1273.7 347.4 C1267.5 353.0 1255.3 364.2 1255.3 364.2 C1255.3 364.2 1253.7 348.5 1252.8 340.7 C1251.5 329.5 1249.7 318.4 1248.6 307.2 C1247.2 292.5 1245.3 262.9 1245.3 262.9 C1245.3 262.9 1233.9 257.8 1233.9 257.8 C1233.9 257.8 1217.1 62.7 1217.1 62.7Z" fill="#e5ecf6"/>
<g clip-path="url(#cu2)">
<line x1="1284.6" y1="29.9" x2="1290.1" y2="211" stroke="#fff" stroke-width="1.5" stroke-opacity="0.4"/>
<line x1="1161.6" y1="317.6" x2="1290.1" y2="211" stroke="#fff" stroke-width="1.5" stroke-opacity="0.4"/>
<line x1="1290.1" y1="211" x2="1464.1" y2="271.7" stroke="#fff" stroke-width="1.5" stroke-opacity="0.4"/>
<line x1="1144.6" y1="222.4" x2="1287.5" y2="127.1" stroke="#fff" stroke-width="1.5" stroke-opacity="0.4"/>
<line x1="1287.5" y1="127.1" x2="1477.9" y2="182.1" stroke="#fff" stroke-width="1.5" stroke-opacity="0.4"/>
<line x1="1216.6" y1="61.7" x2="1233.9" y2="257.8" stroke="#fff" stroke-width="1.5" stroke-opacity="0.4"/>
<line x1="1381.3" y1="49.5" x2="1371.8" y2="239.5" stroke="#fff" stroke-width="1.5" stroke-opacity="0.4"/>
<line x1="1233.9" y1="257.8" x2="1419" y2="337.3" stroke="#fff" stroke-width="1.5" stroke-opacity="0.4"/>
<line x1="1253.2" y1="364.1" x2="1371.8" y2="239.5" stroke="#fff" stroke-width="1.5" stroke-opacity="0.4"/>
</g>
<path d="M1217.1 62.7 C1217.1 62.7 1243.7 70.4 1257.0 74.4 C1264.8 76.8 1272.7 79.2 1280.4 81.9 C1283.8 83.1 1287.4 84.3 1290.5 86.1 C1292.2 87.1 1293.8 88.6 1294.7 90.3 C1295.5 91.8 1295.4 93.6 1295.5 95.3 C1295.9 101.4 1295.8 107.6 1296.3 113.7 C1296.9 120.4 1297.9 127.1 1298.9 133.8 C1299.9 140.5 1300.8 147.3 1302.2 153.9 C1303.5 160.1 1305.3 166.3 1307.2 172.4 C1308.9 178.0 1311.0 183.6 1313.1 189.1 C1314.0 191.3 1315.0 193.5 1316.2 195.6 C1316.8 196.7 1317.5 197.8 1318.4 198.7 C1319.1 199.3 1320.8 199.9 1320.8 199.9 C1320.8 199.9 1322.5 199.3 1323.2 198.7 C1324.1 197.8 1324.8 196.7 1325.4 195.6 C1326.8 192.9 1328.0 190.2 1329.0 187.4 C1330.8 182.5 1332.6 177.5 1334.0 172.4 C1336.0 165.2 1337.6 157.9 1339.1 150.6 C1340.7 142.8 1342.0 135.0 1343.2 127.1 C1344.5 118.8 1345.5 110.4 1346.6 102.0 C1347.2 97.0 1347.7 91.9 1348.3 86.9 C1348.6 84.7 1348.4 82.3 1349.1 80.2 C1349.8 78.1 1351.0 76.1 1352.5 74.4 C1355.0 71.6 1357.9 69.1 1360.8 66.8 C1364.6 63.8 1368.7 61.3 1372.6 58.5 C1376.2 56.0 1383.4 50.9 1383.4 50.9 C1383.4 50.9 1380.1 99.5 1380.1 99.5 C1380.1 99.5 1444.9 117.9 1444.9 117.9 C1444.9 117.9 1417.8 338.2 1417.8 338.2 C1417.8 338.2 1388.8 328.6 1374.2 324.0 C1365.9 321.4 1357.6 318.6 1349.1 316.4 C1343.6 315.0 1338.1 313.4 1332.4 313.1 C1328.4 312.9 1324.4 313.7 1320.6 314.8 C1315.9 316.2 1311.4 318.1 1307.2 320.6 C1301.3 324.0 1295.8 328.1 1290.5 332.4 C1284.6 337.1 1279.3 342.4 1273.7 347.4 C1267.5 353.0 1255.3 364.2 1255.3 364.2 C1255.3 364.2 1253.7 348.5 1252.8 340.7 C1251.5 329.5 1249.7 318.4 1248.6 307.2 C1247.2 292.5 1245.3 262.9 1245.3 262.9 C1245.3 262.9 1233.9 257.8 1233.9 257.8 C1233.9 257.8 1217.1 62.7 1217.1 62.7Z" fill="rgb(90,149,84)" fill-opacity="0.53"/>
<path d="M1234.4 140.0 C1234.4 140.0 1249.6 130.5 1257.0 125.5 C1262.7 121.7 1268.3 117.9 1273.7 113.7 C1278.4 110.1 1283.1 106.4 1287.1 102.0 C1290.2 98.5 1294.7 90.3 1294.7 90.3 C1294.7 90.3 1295.4 93.6 1295.5 95.3 C1295.9 101.4 1295.8 107.6 1296.3 113.7 C1296.9 120.4 1297.9 127.1 1298.9 133.8 C1299.9 140.5 1300.8 147.3 1302.2 153.9 C1303.5 160.1 1305.3 166.3 1307.2 172.4 C1308.9 178.0 1311.0 183.6 1313.1 189.1 C1314.0 191.3 1315.0 193.5 1316.2 195.6 C1316.8 196.7 1317.5 197.8 1318.4 198.7 C1319.1 199.3 1320.8 199.9 1320.8 199.9 C1320.8 199.9 1322.5 199.3 1323.2 198.7 C1324.1 197.8 1324.8 196.7 1325.4 195.6 C1326.8 192.9 1328.0 190.2 1329.0 187.4 C1330.8 182.5 1332.6 177.5 1334.0 172.4 C1336.0 165.2 1337.6 157.9 1339.1 150.6 C1340.7 142.8 1342.0 135.0 1343.2 127.1 C1344.5 118.8 1345.5 110.4 1346.6 102.0 C1347.2 97.0 1347.7 91.9 1348.3 86.9 C1348.6 84.7 1349.1 80.2 1349.1 80.2 C1349.1 80.2 1349.5 85.0 1350.8 86.9 C1352.5 89.4 1355.0 91.3 1357.5 92.8 C1360.6 94.7 1364.0 96.0 1367.5 97.0 C1371.6 98.2 1380.1 99.5 1380.1 99.5 C1380.1 99.5 1377.3 131.3 1375.9 147.2 C1374.5 164.0 1373.2 180.7 1371.7 197.5 C1371.2 203.4 1370.6 209.2 1370.0 215.1 C1369.2 222.9 1367.5 238.6 1367.5 238.6 C1367.5 238.6 1358.7 247.7 1354.1 252.0 C1349.8 256.1 1345.4 260.1 1340.7 263.7 C1336.5 266.9 1332.1 269.9 1327.3 272.1 C1323.1 274.1 1318.5 275.4 1313.9 276.3 C1309.5 277.1 1305.0 277.4 1300.5 277.1 C1294.9 276.8 1289.3 275.8 1283.8 274.6 C1277.6 273.3 1271.5 271.4 1265.4 269.6 C1258.6 267.5 1245.3 262.9 1245.3 262.9 C1245.3 262.9 1243.6 242.2 1242.8 231.9 C1241.7 217.9 1240.8 203.9 1239.4 190.0 C1238.5 181.3 1237.0 172.7 1236.1 164.0 C1235.3 156.0 1234.4 140.0 1234.4 140.0Z" fill="rgb(90,149,84)" fill-opacity="0.53"/>
<text transform="translate(1099.6 115) rotate(-42)" text-anchor="middle" font-size="27" fill="#262c4e" stroke="#262c4e" stroke-width="0.7" y="9.7">1</text>
<text transform="translate(1124.2 235.6) rotate(-42)" text-anchor="middle" font-size="27" fill="#262c4e" stroke="#262c4e" stroke-width="0.7" y="9.7">0</text>
<text transform="translate(1143.6 331.1) rotate(-42)" text-anchor="middle" font-size="27" fill="#262c4e" stroke="#262c4e" stroke-width="0.7" y="9.7">-1</text>
<text transform="translate(1091.3 249) rotate(73)" text-anchor="middle" font-size="26" fill="#262c4e" stroke="#262c4e" stroke-width="0.7" y="9.4">θ<tspan dy="10" font-size="16" stroke-width="0.4">1</tspan><tspan dy="-10"> - θ</tspan><tspan dy="10" font-size="16" stroke-width="0.4">2</tspan></text>
<text transform="translate(1237.3 380.6) rotate(-50)" text-anchor="middle" font-size="27" fill="#262c4e" stroke="#262c4e" stroke-width="0.7" y="9.7">0</text>
<text transform="translate(1347.9 436.7) rotate(-52)" text-anchor="middle" font-size="27" fill="#262c4e" stroke="#262c4e" stroke-width="0.7" y="9.7">1</text>
<text transform="translate(1217.6 408.8) rotate(30)" text-anchor="middle" font-size="26" fill="#262c4e" stroke="#262c4e" stroke-width="0.7" y="9.4">r<tspan dy="10" font-size="16" stroke-width="0.4">1</tspan><tspan dy="-10"> - r</tspan><tspan dy="10" font-size="16" stroke-width="0.4">2</tspan></text>
<text transform="translate(1388.8 429.6) rotate(20)" text-anchor="middle" font-size="27" fill="#262c4e" stroke="#262c4e" stroke-width="0.7" y="9.7">-1</text>
<text transform="translate(1444.3 345.9) rotate(22)" text-anchor="middle" font-size="27" fill="#262c4e" stroke="#262c4e" stroke-width="0.7" y="9.7">0</text>
<text transform="translate(1484.1 280.6) rotate(24)" text-anchor="middle" font-size="27" fill="#262c4e" stroke="#262c4e" stroke-width="0.7" y="9.7">1</text>
<text transform="translate(1472 364.7) rotate(-61)" text-anchor="middle" font-size="26" fill="#262c4e" stroke="#262c4e" stroke-width="0.7" y="9.4">r<tspan dy="10" font-size="16" stroke-width="0.4">3</tspan><tspan dy="-10"> - r</tspan><tspan dy="10" font-size="16" stroke-width="0.4">4</tspan></text>
<polygon points="1610.2,105.7 1771.1,29.9 1981.3,72.5 1950.6,271.7 1850.0,418.1 1648.1,317.6" fill="#e5ecf6"/>
<line x1="1771.1" y1="29.9" x2="1776.6" y2="211" stroke="#fff" stroke-width="1.5" stroke-opacity="0.85"/>
<line x1="1648.1" y1="317.6" x2="1776.6" y2="211" stroke="#fff" stroke-width="1.5" stroke-opacity="0.85"/>
<line x1="1776.6" y1="211" x2="1950.6" y2="271.7" stroke="#fff" stroke-width="1.5" stroke-opacity="0.85"/>
<line x1="1631.1" y1="222.4" x2="1774" y2="127.1" stroke="#fff" stroke-width="1.5" stroke-opacity="0.85"/>
<line x1="1774" y1="127.1" x2="1964.4" y2="182.1" stroke="#fff" stroke-width="1.5" stroke-opacity="0.85"/>
<line x1="1703.1" y1="61.7" x2="1720.4" y2="257.8" stroke="#fff" stroke-width="1.5" stroke-opacity="0.85"/>
<line x1="1867.8" y1="49.5" x2="1858.3" y2="239.5" stroke="#fff" stroke-width="1.5" stroke-opacity="0.85"/>
<line x1="1720.4" y1="257.8" x2="1905.5" y2="337.3" stroke="#fff" stroke-width="1.5" stroke-opacity="0.85"/>
<line x1="1739.7" y1="364.1" x2="1858.3" y2="239.5" stroke="#fff" stroke-width="1.5" stroke-opacity="0.85"/>
<clipPath id="cu3"><path d="M1703.6 62.7 C1703.6 62.7 1730.2 70.4 1743.5 74.4 C1751.3 76.8 1759.3 79.0 1766.9 81.9 C1769.5 82.9 1771.8 84.5 1774.0 86.1 C1775.6 87.3 1777.3 88.6 1778.2 90.3 C1779.0 91.8 1778.9 93.6 1779.0 95.3 C1779.6 101.4 1779.6 107.6 1780.3 113.7 C1781.1 120.4 1782.3 127.1 1783.5 133.8 C1784.7 140.5 1785.8 147.3 1787.4 153.9 C1788.9 160.2 1790.8 166.3 1792.9 172.4 C1794.8 178.0 1797.0 183.6 1799.3 189.1 C1800.2 191.3 1801.4 193.5 1802.6 195.6 C1803.2 196.7 1803.9 197.8 1804.9 198.7 C1805.5 199.3 1807.3 199.9 1807.3 199.9 C1807.3 199.9 1809.1 199.3 1809.7 198.7 C1810.7 197.8 1811.4 196.7 1812.0 195.6 C1813.4 192.9 1814.7 190.2 1815.8 187.4 C1817.8 182.5 1819.7 177.5 1821.2 172.4 C1823.3 165.2 1825.2 157.9 1826.8 150.6 C1828.6 142.8 1830.1 135.0 1831.5 127.1 C1833.0 118.8 1834.3 110.4 1835.5 102.0 C1836.3 97.0 1836.8 91.9 1837.4 86.9 C1837.7 84.7 1837.5 82.3 1838.2 80.2 C1838.9 78.1 1840.3 76.3 1841.6 74.4 C1843.4 71.8 1845.0 68.9 1847.3 66.8 C1850.9 63.6 1855.2 61.3 1859.1 58.5 C1862.7 56.0 1869.9 50.9 1869.9 50.9 C1869.9 50.9 1866.6 99.5 1866.6 99.5 C1866.6 99.5 1931.4 117.9 1931.4 117.9 C1931.4 117.9 1904.3 338.2 1904.3 338.2 C1904.3 338.2 1875.3 328.6 1860.7 324.0 C1852.4 321.4 1844.1 318.6 1835.6 316.4 C1830.1 315.0 1824.6 313.4 1818.9 313.1 C1814.9 312.9 1810.9 313.7 1807.1 314.8 C1802.4 316.2 1797.9 318.1 1793.7 320.6 C1787.8 324.0 1782.3 328.1 1777.0 332.4 C1771.1 337.1 1765.8 342.4 1760.2 347.4 C1754.0 353.0 1741.8 364.2 1741.8 364.2 C1741.8 364.2 1740.2 348.5 1739.3 340.7 C1738.0 329.5 1736.2 318.4 1735.1 307.2 C1733.7 292.5 1731.8 262.9 1731.8 262.9 C1731.8 262.9 1720.4 257.8 1720.4 257.8 C1720.4 257.8 1703.6 62.7 1703.6 62.7Z"/></clipPath>
<path d="M1703.6 62.7 C1703.6 62.7 1730.2 70.4 1743.5 74.4 C1751.3 76.8 1759.3 79.0 1766.9 81.9 C1769.5 82.9 1771.8 84.5 1774.0 86.1 C1775.6 87.3 1777.3 88.6 1778.2 90.3 C1779.0 91.8 1778.9 93.6 1779.0 95.3 C1779.6 101.4 1779.6 107.6 1780.3 113.7 C1781.1 120.4 1782.3 127.1 1783.5 133.8 C1784.7 140.5 1785.8 147.3 1787.4 153.9 C1788.9 160.2 1790.8 166.3 1792.9 172.4 C1794.8 178.0 1797.0 183.6 1799.3 189.1 C1800.2 191.3 1801.4 193.5 1802.6 195.6 C1803.2 196.7 1803.9 197.8 1804.9 198.7 C1805.5 199.3 1807.3 199.9 1807.3 199.9 C1807.3 199.9 1809.1 199.3 1809.7 198.7 C1810.7 197.8 1811.4 196.7 1812.0 195.6 C1813.4 192.9 1814.7 190.2 1815.8 187.4 C1817.8 182.5 1819.7 177.5 1821.2 172.4 C1823.3 165.2 1825.2 157.9 1826.8 150.6 C1828.6 142.8 1830.1 135.0 1831.5 127.1 C1833.0 118.8 1834.3 110.4 1835.5 102.0 C1836.3 97.0 1836.8 91.9 1837.4 86.9 C1837.7 84.7 1837.5 82.3 1838.2 80.2 C1838.9 78.1 1840.3 76.3 1841.6 74.4 C1843.4 71.8 1845.0 68.9 1847.3 66.8 C1850.9 63.6 1855.2 61.3 1859.1 58.5 C1862.7 56.0 1869.9 50.9 1869.9 50.9 C1869.9 50.9 1866.6 99.5 1866.6 99.5 C1866.6 99.5 1931.4 117.9 1931.4 117.9 C1931.4 117.9 1904.3 338.2 1904.3 338.2 C1904.3 338.2 1875.3 328.6 1860.7 324.0 C1852.4 321.4 1844.1 318.6 1835.6 316.4 C1830.1 315.0 1824.6 313.4 1818.9 313.1 C1814.9 312.9 1810.9 313.7 1807.1 314.8 C1802.4 316.2 1797.9 318.1 1793.7 320.6 C1787.8 324.0 1782.3 328.1 1777.0 332.4 C1771.1 337.1 1765.8 342.4 1760.2 347.4 C1754.0 353.0 1741.8 364.2 1741.8 364.2 C1741.8 364.2 1740.2 348.5 1739.3 340.7 C1738.0 329.5 1736.2 318.4 1735.1 307.2 C1733.7 292.5 1731.8 262.9 1731.8 262.9 C1731.8 262.9 1720.4 257.8 1720.4 257.8 C1720.4 257.8 1703.6 62.7 1703.6 62.7Z" fill="#e5ecf6"/>
<g clip-path="url(#cu3)">
<line x1="1771.1" y1="29.9" x2="1776.6" y2="211" stroke="#fff" stroke-width="1.5" stroke-opacity="0.4"/>
<line x1="1648.1" y1="317.6" x2="1776.6" y2="211" stroke="#fff" stroke-width="1.5" stroke-opacity="0.4"/>
<line x1="1776.6" y1="211" x2="1950.6" y2="271.7" stroke="#fff" stroke-width="1.5" stroke-opacity="0.4"/>
<line x1="1631.1" y1="222.4" x2="1774" y2="127.1" stroke="#fff" stroke-width="1.5" stroke-opacity="0.4"/>
<line x1="1774" y1="127.1" x2="1964.4" y2="182.1" stroke="#fff" stroke-width="1.5" stroke-opacity="0.4"/>
<line x1="1703.1" y1="61.7" x2="1720.4" y2="257.8" stroke="#fff" stroke-width="1.5" stroke-opacity="0.4"/>
<line x1="1867.8" y1="49.5" x2="1858.3" y2="239.5" stroke="#fff" stroke-width="1.5" stroke-opacity="0.4"/>
<line x1="1720.4" y1="257.8" x2="1905.5" y2="337.3" stroke="#fff" stroke-width="1.5" stroke-opacity="0.4"/>
<line x1="1739.7" y1="364.1" x2="1858.3" y2="239.5" stroke="#fff" stroke-width="1.5" stroke-opacity="0.4"/>
</g>
<path d="M1703.6 62.7 C1703.6 62.7 1730.2 70.4 1743.5 74.4 C1751.3 76.8 1759.3 79.0 1766.9 81.9 C1769.5 82.9 1771.8 84.5 1774.0 86.1 C1775.6 87.3 1777.3 88.6 1778.2 90.3 C1779.0 91.8 1778.9 93.6 1779.0 95.3 C1779.6 101.4 1779.6 107.6 1780.3 113.7 C1781.1 120.4 1782.3 127.1 1783.5 133.8 C1784.7 140.5 1785.8 147.3 1787.4 153.9 C1788.9 160.2 1790.8 166.3 1792.9 172.4 C1794.8 178.0 1797.0 183.6 1799.3 189.1 C1800.2 191.3 1801.4 193.5 1802.6 195.6 C1803.2 196.7 1803.9 197.8 1804.9 198.7 C1805.5 199.3 1807.3 199.9 1807.3 199.9 C1807.3 199.9 1809.1 199.3 1809.7 198.7 C1810.7 197.8 1811.4 196.7 1812.0 195.6 C1813.4 192.9 1814.7 190.2 1815.8 187.4 C1817.8 182.5 1819.7 177.5 1821.2 172.4 C1823.3 165.2 1825.2 157.9 1826.8 150.6 C1828.6 142.8 1830.1 135.0 1831.5 127.1 C1833.0 118.8 1834.3 110.4 1835.5 102.0 C1836.3 97.0 1836.8 91.9 1837.4 86.9 C1837.7 84.7 1837.5 82.3 1838.2 80.2 C1838.9 78.1 1840.3 76.3 1841.6 74.4 C1843.4 71.8 1845.0 68.9 1847.3 66.8 C1850.9 63.6 1855.2 61.3 1859.1 58.5 C1862.7 56.0 1869.9 50.9 1869.9 50.9 C1869.9 50.9 1866.6 99.5 1866.6 99.5 C1866.6 99.5 1931.4 117.9 1931.4 117.9 C1931.4 117.9 1904.3 338.2 1904.3 338.2 C1904.3 338.2 1875.3 328.6 1860.7 324.0 C1852.4 321.4 1844.1 318.6 1835.6 316.4 C1830.1 315.0 1824.6 313.4 1818.9 313.1 C1814.9 312.9 1810.9 313.7 1807.1 314.8 C1802.4 316.2 1797.9 318.1 1793.7 320.6 C1787.8 324.0 1782.3 328.1 1777.0 332.4 C1771.1 337.1 1765.8 342.4 1760.2 347.4 C1754.0 353.0 1741.8 364.2 1741.8 364.2 C1741.8 364.2 1740.2 348.5 1739.3 340.7 C1738.0 329.5 1736.2 318.4 1735.1 307.2 C1733.7 292.5 1731.8 262.9 1731.8 262.9 C1731.8 262.9 1720.4 257.8 1720.4 257.8 C1720.4 257.8 1703.6 62.7 1703.6 62.7Z" fill="rgb(90,149,84)" fill-opacity="0.53"/>
<path d="M1720.9 140.0 C1720.9 140.0 1736.1 130.5 1743.5 125.5 C1749.2 121.7 1754.8 117.9 1760.2 113.7 C1764.9 110.1 1770.0 106.7 1773.6 102.0 C1776.2 98.7 1778.2 90.3 1778.2 90.3 C1778.2 90.3 1778.9 93.6 1779.0 95.3 C1779.6 101.4 1779.6 107.6 1780.3 113.7 C1781.1 120.4 1782.3 127.1 1783.5 133.8 C1784.7 140.5 1785.8 147.3 1787.4 153.9 C1788.9 160.2 1790.8 166.3 1792.9 172.4 C1794.8 178.0 1797.0 183.6 1799.3 189.1 C1800.2 191.3 1801.4 193.5 1802.6 195.6 C1803.2 196.7 1803.9 197.8 1804.9 198.7 C1805.5 199.3 1807.3 199.9 1807.3 199.9 C1807.3 199.9 1809.1 199.3 1809.7 198.7 C1810.7 197.8 1811.4 196.7 1812.0 195.6 C1813.4 192.9 1814.7 190.2 1815.8 187.4 C1817.8 182.5 1819.7 177.5 1821.2 172.4 C1823.3 165.2 1825.2 157.9 1826.8 150.6 C1828.6 142.8 1830.1 135.0 1831.5 127.1 C1833.0 118.8 1834.3 110.4 1835.5 102.0 C1836.3 97.0 1836.8 91.9 1837.4 86.9 C1837.7 84.7 1838.2 80.2 1838.2 80.2 C1838.2 80.2 1838.9 84.8 1839.9 86.9 C1840.9 89.1 1842.1 91.4 1844.0 92.8 C1846.9 94.9 1850.5 96.0 1854.0 97.0 C1858.1 98.2 1866.6 99.5 1866.6 99.5 C1866.6 99.5 1863.8 131.3 1862.4 147.2 C1861.0 164.0 1859.7 180.7 1858.2 197.5 C1857.7 203.4 1857.1 209.2 1856.5 215.1 C1855.7 222.9 1854.0 238.6 1854.0 238.6 C1854.0 238.6 1845.2 247.7 1840.6 252.0 C1836.3 256.1 1831.9 260.1 1827.2 263.7 C1823.0 266.9 1818.6 269.9 1813.8 272.1 C1809.6 274.1 1805.0 275.4 1800.4 276.3 C1796.0 277.1 1791.5 277.4 1787.0 277.1 C1781.4 276.8 1775.8 275.8 1770.3 274.6 C1764.1 273.3 1758.0 271.4 1751.9 269.6 C1745.1 267.5 1731.8 262.9 1731.8 262.9 C1731.8 262.9 1730.1 242.2 1729.3 231.9 C1728.2 217.9 1727.3 203.9 1725.9 190.0 C1725.0 181.3 1723.5 172.7 1722.6 164.0 C1721.8 156.0 1720.9 140.0 1720.9 140.0Z" fill="rgb(90,149,84)" fill-opacity="0.53"/>
<text transform="translate(1586.1 115) rotate(-42)" text-anchor="middle" font-size="27" fill="#262c4e" stroke="#262c4e" stroke-width="0.7" y="9.7">1</text>
<text transform="translate(1610.7 235.6) rotate(-42)" text-anchor="middle" font-size="27" fill="#262c4e" stroke="#262c4e" stroke-width="0.7" y="9.7">0</text>
<text transform="translate(1630.1 331.1) rotate(-42)" text-anchor="middle" font-size="27" fill="#262c4e" stroke="#262c4e" stroke-width="0.7" y="9.7">-1</text>
<text transform="translate(1577.8 249) rotate(73)" text-anchor="middle" font-size="26" fill="#262c4e" stroke="#262c4e" stroke-width="0.7" y="9.4">θ<tspan dy="10" font-size="16" stroke-width="0.4">1</tspan><tspan dy="-10"> - θ</tspan><tspan dy="10" font-size="16" stroke-width="0.4">2</tspan></text>
<text transform="translate(1723.8 380.6) rotate(-50)" text-anchor="middle" font-size="27" fill="#262c4e" stroke="#262c4e" stroke-width="0.7" y="9.7">0</text>
<text transform="translate(1834.4 436.7) rotate(-52)" text-anchor="middle" font-size="27" fill="#262c4e" stroke="#262c4e" stroke-width="0.7" y="9.7">1</text>
<text transform="translate(1704.1 408.8) rotate(30)" text-anchor="middle" font-size="26" fill="#262c4e" stroke="#262c4e" stroke-width="0.7" y="9.4">r<tspan dy="10" font-size="16" stroke-width="0.4">1</tspan><tspan dy="-10"> - r</tspan><tspan dy="10" font-size="16" stroke-width="0.4">2</tspan></text>
<text transform="translate(1875.3 429.6) rotate(20)" text-anchor="middle" font-size="27" fill="#262c4e" stroke="#262c4e" stroke-width="0.7" y="9.7">-1</text>
<text transform="translate(1930.8 345.9) rotate(22)" text-anchor="middle" font-size="27" fill="#262c4e" stroke="#262c4e" stroke-width="0.7" y="9.7">0</text>
<text transform="translate(1970.6 280.6) rotate(24)" text-anchor="middle" font-size="27" fill="#262c4e" stroke="#262c4e" stroke-width="0.7" y="9.7">1</text>
<text transform="translate(1958.5 364.7) rotate(-61)" text-anchor="middle" font-size="26" fill="#262c4e" stroke="#262c4e" stroke-width="0.7" y="9.4">r<tspan dy="10" font-size="16" stroke-width="0.4">3</tspan><tspan dy="-10"> - r</tspan><tspan dy="10" font-size="16" stroke-width="0.4">4</tspan></text>
<text x="797.9" y="506.9" font-size="27" text-anchor="start" >Initial</text>
<path d="M1253.9 489.9 L1262 504.3 L1245.8 504.3 Z" fill="#141414" stroke="#141414" stroke-width="3.2" stroke-linejoin="round"/>
<text x="1269.8" y="506.9" font-size="27">10<tspan dy="-8.8" font-size="15.5">4</tspan><tspan dy="8.8" font-size="27"> steps</tspan></text>
<rect x="1734.9" y="487.2" width="20.2" height="20.5" rx="3.6" fill="#141414"/>
<text x="1761" y="506.9" font-size="27">10<tspan dy="-8.8" font-size="15.5">5</tspan><tspan dy="8.8" font-size="27"> steps</tspan></text>
<text x="600.2" y="22.8" font-size="31" text-anchor="start" font-weight="bold" fill="#111">b</text>
<text x="1086.5" y="22.8" font-size="31" text-anchor="start" font-weight="bold" fill="#111">c</text>
<text x="1568.9" y="22.8" font-size="31" text-anchor="start" font-weight="bold" fill="#111">d</text>
<g class="mp">
<line x1="86.9" y1="1003.1" x2="992.9" y2="1003.1" stroke="#000" stroke-width="2.45" stroke-dasharray="9 3.9"/>
<polyline points="127.5,1002.5 538.5,920.6 951.9,582.6" fill="none" stroke="#1f77b4" stroke-width="2.65" stroke-dasharray="9 3.9"/>
<line x1="127.5" y1="1003.7" x2="538" y2="968.6" stroke="#ff7f0e" stroke-width="2.65" stroke-dasharray="9 3.9"/>
<line x1="539.5" y1="977.4" x2="951.9" y2="840.1" stroke="#ff7f0e" stroke-width="2.65" stroke-dasharray="9 3.9"/>
<line x1="127.5" y1="1001.9" x2="127.5" y2="1003.1" stroke="#1f77b4" stroke-width="2.45" /><line x1="120.2" y1="1001.9" x2="134.8" y2="1001.9" stroke="#1f77b4" stroke-width="2.45" /><line x1="120.2" y1="1003.1" x2="134.8" y2="1003.1" stroke="#1f77b4" stroke-width="2.45" /><circle cx="127.5" cy="1002.5" r="5.15" fill="#1f77b4"/>
<line x1="182.5" y1="986.5" x2="182.5" y2="988.4" stroke="#1f77b4" stroke-width="2.45" /><line x1="175.2" y1="986.5" x2="189.8" y2="986.5" stroke="#1f77b4" stroke-width="2.45" /><line x1="175.2" y1="988.4" x2="189.8" y2="988.4" stroke="#1f77b4" stroke-width="2.45" /><circle cx="182.5" cy="987.4" r="5.15" fill="#1f77b4"/>
<line x1="237.4" y1="987.3" x2="237.4" y2="988.8" stroke="#1f77b4" stroke-width="2.45" /><line x1="230.1" y1="987.3" x2="244.7" y2="987.3" stroke="#1f77b4" stroke-width="2.45" /><line x1="230.1" y1="988.8" x2="244.7" y2="988.8" stroke="#1f77b4" stroke-width="2.45" /><circle cx="237.4" cy="988.1" r="5.15" fill="#1f77b4"/>
<line x1="292.4" y1="959.5" x2="292.4" y2="961.4" stroke="#1f77b4" stroke-width="2.45" /><line x1="285.1" y1="959.5" x2="299.7" y2="959.5" stroke="#1f77b4" stroke-width="2.45" /><line x1="285.1" y1="961.4" x2="299.7" y2="961.4" stroke="#1f77b4" stroke-width="2.45" /><circle cx="292.4" cy="960.5" r="5.15" fill="#1f77b4"/>
<line x1="347.3" y1="964.2" x2="347.3" y2="966.7" stroke="#1f77b4" stroke-width="2.45" /><line x1="340" y1="964.2" x2="354.6" y2="964.2" stroke="#1f77b4" stroke-width="2.45" /><line x1="340" y1="966.7" x2="354.6" y2="966.7" stroke="#1f77b4" stroke-width="2.45" /><circle cx="347.3" cy="965.5" r="5.15" fill="#1f77b4"/>
<line x1="402.3" y1="949.5" x2="402.3" y2="951.4" stroke="#1f77b4" stroke-width="2.45" /><line x1="395" y1="949.5" x2="409.6" y2="949.5" stroke="#1f77b4" stroke-width="2.45" /><line x1="395" y1="951.4" x2="409.6" y2="951.4" stroke="#1f77b4" stroke-width="2.45" /><circle cx="402.3" cy="950.4" r="5.15" fill="#1f77b4"/>
<line x1="457.3" y1="938.4" x2="457.3" y2="939.9" stroke="#1f77b4" stroke-width="2.45" /><line x1="450" y1="938.4" x2="464.6" y2="938.4" stroke="#1f77b4" stroke-width="2.45" /><line x1="450" y1="939.9" x2="464.6" y2="939.9" stroke="#1f77b4" stroke-width="2.45" /><circle cx="457.3" cy="939.1" r="5.15" fill="#1f77b4"/>
<line x1="512.2" y1="919.4" x2="512.2" y2="922.5" stroke="#1f77b4" stroke-width="2.45" /><line x1="504.9" y1="919.4" x2="519.5" y2="919.4" stroke="#1f77b4" stroke-width="2.45" /><line x1="504.9" y1="922.5" x2="519.5" y2="922.5" stroke="#1f77b4" stroke-width="2.45" /><circle cx="512.2" cy="921" r="5.15" fill="#1f77b4"/>
<line x1="567.2" y1="888.2" x2="567.2" y2="891" stroke="#1f77b4" stroke-width="2.45" /><line x1="559.9" y1="888.2" x2="574.5" y2="888.2" stroke="#1f77b4" stroke-width="2.45" /><line x1="559.9" y1="891" x2="574.5" y2="891" stroke="#1f77b4" stroke-width="2.45" /><circle cx="567.2" cy="889.6" r="5.15" fill="#1f77b4"/>
<line x1="622.1" y1="840.2" x2="622.1" y2="843.7" stroke="#1f77b4" stroke-width="2.45" /><line x1="614.8" y1="840.2" x2="629.4" y2="840.2" stroke="#1f77b4" stroke-width="2.45" /><line x1="614.8" y1="843.7" x2="629.4" y2="843.7" stroke="#1f77b4" stroke-width="2.45" /><circle cx="622.1" cy="842" r="5.15" fill="#1f77b4"/>
<line x1="677.1" y1="798.6" x2="677.1" y2="801.3" stroke="#1f77b4" stroke-width="2.45" /><line x1="669.8" y1="798.6" x2="684.4" y2="798.6" stroke="#1f77b4" stroke-width="2.45" /><line x1="669.8" y1="801.3" x2="684.4" y2="801.3" stroke="#1f77b4" stroke-width="2.45" /><circle cx="677.1" cy="800" r="5.15" fill="#1f77b4"/>
<line x1="732.1" y1="774.7" x2="732.1" y2="776.3" stroke="#1f77b4" stroke-width="2.45" /><line x1="724.8" y1="774.7" x2="739.4" y2="774.7" stroke="#1f77b4" stroke-width="2.45" /><line x1="724.8" y1="776.3" x2="739.4" y2="776.3" stroke="#1f77b4" stroke-width="2.45" /><circle cx="732.1" cy="775.5" r="5.15" fill="#1f77b4"/>
<line x1="787" y1="735.9" x2="787" y2="737.4" stroke="#1f77b4" stroke-width="2.45" /><line x1="779.7" y1="735.9" x2="794.3" y2="735.9" stroke="#1f77b4" stroke-width="2.45" /><line x1="779.7" y1="737.4" x2="794.3" y2="737.4" stroke="#1f77b4" stroke-width="2.45" /><circle cx="787" cy="736.6" r="5.15" fill="#1f77b4"/>
<line x1="842" y1="665" x2="842" y2="669.1" stroke="#1f77b4" stroke-width="2.45" /><line x1="834.7" y1="665" x2="849.3" y2="665" stroke="#1f77b4" stroke-width="2.45" /><line x1="834.7" y1="669.1" x2="849.3" y2="669.1" stroke="#1f77b4" stroke-width="2.45" /><circle cx="842" cy="667" r="5.15" fill="#1f77b4"/>
<line x1="896.9" y1="615.7" x2="896.9" y2="619.3" stroke="#1f77b4" stroke-width="2.45" /><line x1="889.6" y1="615.7" x2="904.2" y2="615.7" stroke="#1f77b4" stroke-width="2.45" /><line x1="889.6" y1="619.3" x2="904.2" y2="619.3" stroke="#1f77b4" stroke-width="2.45" /><circle cx="896.9" cy="617.5" r="5.15" fill="#1f77b4"/>
<line x1="951.9" y1="577.4" x2="951.9" y2="581.1" stroke="#1f77b4" stroke-width="2.45" /><line x1="944.6" y1="577.4" x2="959.2" y2="577.4" stroke="#1f77b4" stroke-width="2.45" /><line x1="944.6" y1="581.1" x2="959.2" y2="581.1" stroke="#1f77b4" stroke-width="2.45" /><circle cx="951.9" cy="579.2" r="5.15" fill="#1f77b4"/>
<line x1="127.5" y1="1004.4" x2="127.5" y2="1005.6" stroke="#ff7f0e" stroke-width="2.45" /><line x1="120.2" y1="1004.4" x2="134.8" y2="1004.4" stroke="#ff7f0e" stroke-width="2.45" /><line x1="120.2" y1="1005.6" x2="134.8" y2="1005.6" stroke="#ff7f0e" stroke-width="2.45" /><circle cx="127.5" cy="1005" r="5.15" fill="#ff7f0e"/>
<line x1="182.5" y1="998.7" x2="182.5" y2="1000" stroke="#ff7f0e" stroke-width="2.45" /><line x1="175.2" y1="998.7" x2="189.8" y2="998.7" stroke="#ff7f0e" stroke-width="2.45" /><line x1="175.2" y1="1000" x2="189.8" y2="1000" stroke="#ff7f0e" stroke-width="2.45" /><circle cx="182.5" cy="999.3" r="5.15" fill="#ff7f0e"/>
<line x1="237.4" y1="993.6" x2="237.4" y2="995.1" stroke="#ff7f0e" stroke-width="2.45" /><line x1="230.1" y1="993.6" x2="244.7" y2="993.6" stroke="#ff7f0e" stroke-width="2.45" /><line x1="230.1" y1="995.1" x2="244.7" y2="995.1" stroke="#ff7f0e" stroke-width="2.45" /><circle cx="237.4" cy="994.3" r="5.15" fill="#ff7f0e"/>
<line x1="292.4" y1="986.5" x2="292.4" y2="988.4" stroke="#ff7f0e" stroke-width="2.45" /><line x1="285.1" y1="986.5" x2="299.7" y2="986.5" stroke="#ff7f0e" stroke-width="2.45" /><line x1="285.1" y1="988.4" x2="299.7" y2="988.4" stroke="#ff7f0e" stroke-width="2.45" /><circle cx="292.4" cy="987.4" r="5.15" fill="#ff7f0e"/>
<line x1="347.3" y1="984" x2="347.3" y2="985.9" stroke="#ff7f0e" stroke-width="2.45" /><line x1="340" y1="984" x2="354.6" y2="984" stroke="#ff7f0e" stroke-width="2.45" /><line x1="340" y1="985.9" x2="354.6" y2="985.9" stroke="#ff7f0e" stroke-width="2.45" /><circle cx="347.3" cy="984.9" r="5.15" fill="#ff7f0e"/>
<line x1="402.3" y1="978.3" x2="402.3" y2="980.2" stroke="#ff7f0e" stroke-width="2.45" /><line x1="395" y1="978.3" x2="409.6" y2="978.3" stroke="#ff7f0e" stroke-width="2.45" /><line x1="395" y1="980.2" x2="409.6" y2="980.2" stroke="#ff7f0e" stroke-width="2.45" /><circle cx="402.3" cy="979.3" r="5.15" fill="#ff7f0e"/>
<line x1="457.3" y1="973.8" x2="457.3" y2="976" stroke="#ff7f0e" stroke-width="2.45" /><line x1="450" y1="973.8" x2="464.6" y2="973.8" stroke="#ff7f0e" stroke-width="2.45" /><line x1="450" y1="976" x2="464.6" y2="976" stroke="#ff7f0e" stroke-width="2.45" /><circle cx="457.3" cy="974.9" r="5.15" fill="#ff7f0e"/>
<line x1="512.2" y1="971.8" x2="512.2" y2="974.9" stroke="#ff7f0e" stroke-width="2.45" /><line x1="504.9" y1="971.8" x2="519.5" y2="971.8" stroke="#ff7f0e" stroke-width="2.45" /><line x1="504.9" y1="974.9" x2="519.5" y2="974.9" stroke="#ff7f0e" stroke-width="2.45" /><circle cx="512.2" cy="973.3" r="5.15" fill="#ff7f0e"/>
<line x1="567.2" y1="959.8" x2="567.2" y2="963.6" stroke="#ff7f0e" stroke-width="2.45" /><line x1="559.9" y1="959.8" x2="574.5" y2="959.8" stroke="#ff7f0e" stroke-width="2.45" /><line x1="559.9" y1="963.6" x2="574.5" y2="963.6" stroke="#ff7f0e" stroke-width="2.45" /><circle cx="567.2" cy="961.7" r="5.15" fill="#ff7f0e"/>
<line x1="622.1" y1="948.2" x2="622.1" y2="951.4" stroke="#ff7f0e" stroke-width="2.45" /><line x1="614.8" y1="948.2" x2="629.4" y2="948.2" stroke="#ff7f0e" stroke-width="2.45" /><line x1="614.8" y1="951.4" x2="629.4" y2="951.4" stroke="#ff7f0e" stroke-width="2.45" /><circle cx="622.1" cy="949.8" r="5.15" fill="#ff7f0e"/>
<line x1="677.1" y1="928.8" x2="677.1" y2="931.9" stroke="#ff7f0e" stroke-width="2.45" /><line x1="669.8" y1="928.8" x2="684.4" y2="928.8" stroke="#ff7f0e" stroke-width="2.45" /><line x1="669.8" y1="931.9" x2="684.4" y2="931.9" stroke="#ff7f0e" stroke-width="2.45" /><circle cx="677.1" cy="930.4" r="5.15" fill="#ff7f0e"/>
<line x1="732.1" y1="915.3" x2="732.1" y2="919.1" stroke="#ff7f0e" stroke-width="2.45" /><line x1="724.8" y1="915.3" x2="739.4" y2="915.3" stroke="#ff7f0e" stroke-width="2.45" /><line x1="724.8" y1="919.1" x2="739.4" y2="919.1" stroke="#ff7f0e" stroke-width="2.45" /><circle cx="732.1" cy="917.2" r="5.15" fill="#ff7f0e"/>
<line x1="787" y1="900.1" x2="787" y2="904.2" stroke="#ff7f0e" stroke-width="2.45" /><line x1="779.7" y1="900.1" x2="794.3" y2="900.1" stroke="#ff7f0e" stroke-width="2.45" /><line x1="779.7" y1="904.2" x2="794.3" y2="904.2" stroke="#ff7f0e" stroke-width="2.45" /><circle cx="787" cy="902.2" r="5.15" fill="#ff7f0e"/>
<line x1="842" y1="873.3" x2="842" y2="877.1" stroke="#ff7f0e" stroke-width="2.45" /><line x1="834.7" y1="873.3" x2="849.3" y2="873.3" stroke="#ff7f0e" stroke-width="2.45" /><line x1="834.7" y1="877.1" x2="849.3" y2="877.1" stroke="#ff7f0e" stroke-width="2.45" /><circle cx="842" cy="875.2" r="5.15" fill="#ff7f0e"/>
<line x1="896.9" y1="843.1" x2="896.9" y2="848.4" stroke="#ff7f0e" stroke-width="2.45" /><line x1="889.6" y1="843.1" x2="904.2" y2="843.1" stroke="#ff7f0e" stroke-width="2.45" /><line x1="889.6" y1="848.4" x2="904.2" y2="848.4" stroke="#ff7f0e" stroke-width="2.45" /><circle cx="896.9" cy="845.7" r="5.15" fill="#ff7f0e"/>
<line x1="951.9" y1="836.6" x2="951.9" y2="842.3" stroke="#ff7f0e" stroke-width="2.45" /><line x1="944.6" y1="836.6" x2="959.2" y2="836.6" stroke="#ff7f0e" stroke-width="2.45" /><line x1="944.6" y1="842.3" x2="959.2" y2="842.3" stroke="#ff7f0e" stroke-width="2.45" /><circle cx="951.9" cy="839.5" r="5.15" fill="#ff7f0e"/>
<rect x="86.9" y="555.2" width="906" height="470.8" fill="none" stroke="#000" stroke-width="2.1"/>
<line x1="78" y1="1003.1" x2="86.9" y2="1003.1" stroke="#000" stroke-width="2.0" />
<text x="69.8" y="1012" font-size="24.3" text-anchor="end" >0</text>
<line x1="78" y1="940.4" x2="86.9" y2="940.4" stroke="#000" stroke-width="2.0" />
<text x="69.8" y="949.3" font-size="24.3" text-anchor="end" >10</text>
<line x1="78" y1="877.7" x2="86.9" y2="877.7" stroke="#000" stroke-width="2.0" />
<text x="69.8" y="886.6" font-size="24.3" text-anchor="end" >20</text>
<line x1="78" y1="815" x2="86.9" y2="815" stroke="#000" stroke-width="2.0" />
<text x="69.8" y="823.9" font-size="24.3" text-anchor="end" >30</text>
<line x1="78" y1="752.3" x2="86.9" y2="752.3" stroke="#000" stroke-width="2.0" />
<text x="69.8" y="761.2" font-size="24.3" text-anchor="end" >40</text>
<line x1="78" y1="689.6" x2="86.9" y2="689.6" stroke="#000" stroke-width="2.0" />
<text x="69.8" y="698.5" font-size="24.3" text-anchor="end" >50</text>
<line x1="78" y1="626.9" x2="86.9" y2="626.9" stroke="#000" stroke-width="2.0" />
<text x="69.8" y="635.8" font-size="24.3" text-anchor="end" >60</text>
<line x1="78" y1="564.2" x2="86.9" y2="564.2" stroke="#000" stroke-width="2.0" />
<text x="69.8" y="573.1" font-size="24.3" text-anchor="end" >70</text>
<line x1="127.5" y1="1026" x2="127.5" y2="1034.9" stroke="#000" stroke-width="2.0" />
<text x="127.5" y="1059.8" font-size="24.3" text-anchor="middle" >Li</text>
<line x1="182.5" y1="1026" x2="182.5" y2="1034.9" stroke="#000" stroke-width="2.0" />
<text x="182.5" y="1059.8" font-size="24.3" text-anchor="middle" >Be</text>
<line x1="237.4" y1="1026" x2="237.4" y2="1034.9" stroke="#000" stroke-width="2.0" />
<text x="237.4" y="1059.8" font-size="24.3" text-anchor="middle" >B</text>
<line x1="292.4" y1="1026" x2="292.4" y2="1034.9" stroke="#000" stroke-width="2.0" />
<text x="292.4" y="1059.8" font-size="24.3" text-anchor="middle" >C</text>
<line x1="347.3" y1="1026" x2="347.3" y2="1034.9" stroke="#000" stroke-width="2.0" />
<text x="347.3" y="1059.8" font-size="24.3" text-anchor="middle" >N</text>
<line x1="402.3" y1="1026" x2="402.3" y2="1034.9" stroke="#000" stroke-width="2.0" />
<text x="402.3" y="1059.8" font-size="24.3" text-anchor="middle" >O</text>
<line x1="457.3" y1="1026" x2="457.3" y2="1034.9" stroke="#000" stroke-width="2.0" />
<text x="457.3" y="1059.8" font-size="24.3" text-anchor="middle" >F</text>
<line x1="512.2" y1="1026" x2="512.2" y2="1034.9" stroke="#000" stroke-width="2.0" />
<text x="512.2" y="1059.8" font-size="24.3" text-anchor="middle" >Ne</text>
<line x1="567.2" y1="1026" x2="567.2" y2="1034.9" stroke="#000" stroke-width="2.0" />
<text x="567.2" y="1059.8" font-size="24.3" text-anchor="middle" >Na</text>
<line x1="622.1" y1="1026" x2="622.1" y2="1034.9" stroke="#000" stroke-width="2.0" />
<text x="622.1" y="1059.8" font-size="24.3" text-anchor="middle" >Mg</text>
<line x1="677.1" y1="1026" x2="677.1" y2="1034.9" stroke="#000" stroke-width="2.0" />
<text x="677.1" y="1059.8" font-size="24.3" text-anchor="middle" >Al</text>
<line x1="732.1" y1="1026" x2="732.1" y2="1034.9" stroke="#000" stroke-width="2.0" />
<text x="732.1" y="1059.8" font-size="24.3" text-anchor="middle" >Si</text>
<line x1="787" y1="1026" x2="787" y2="1034.9" stroke="#000" stroke-width="2.0" />
<text x="787" y="1059.8" font-size="24.3" text-anchor="middle" >P</text>
<line x1="842" y1="1026" x2="842" y2="1034.9" stroke="#000" stroke-width="2.0" />
<text x="842" y="1059.8" font-size="24.3" text-anchor="middle" >S</text>
<line x1="896.9" y1="1026" x2="896.9" y2="1034.9" stroke="#000" stroke-width="2.0" />
<text x="896.9" y="1059.8" font-size="24.3" text-anchor="middle" >Cl</text>
<line x1="951.9" y1="1026" x2="951.9" y2="1034.9" stroke="#000" stroke-width="2.0" />
<text x="951.9" y="1059.8" font-size="24.3" text-anchor="middle" >Ar</text>
<text transform="translate(23.9 895.3) rotate(-90)" x="-1.9" y="0" font-size="23.9">Energy-<tspan font-family="'DejaVu Sans', sans-serif">E</tspan><tspan font-family="'DejaVu Sans', sans-serif" font-size="16.7" dy="4.0">exact</tspan><tspan font-family="'DejaVu Sans', sans-serif" dy="-4.0">(m</tspan><tspan font-family="'DejaVu Sans', sans-serif" font-style="italic">E</tspan><tspan font-family="'DejaVu Sans', sans-serif" font-size="16.7" dy="4.0">h</tspan><tspan font-family="'DejaVu Sans', sans-serif" dy="-4.0">)</tspan></text>
<line x1="132.5" y1="573.9" x2="132.5" y2="598.3" stroke="#1f77b4" stroke-width="2.45" /><line x1="125.2" y1="573.9" x2="139.8" y2="573.9" stroke="#1f77b4" stroke-width="2.45" /><line x1="125.2" y1="598.3" x2="139.8" y2="598.3" stroke="#1f77b4" stroke-width="2.45" /><circle cx="132.5" cy="586.1" r="5.15" fill="#1f77b4"/>
<text x="176.1" y="594.5" font-size="24.3" text-anchor="start" >FermiNet-VMC</text>
<line x1="132.5" y1="608.3" x2="132.5" y2="632.7" stroke="#ff7f0e" stroke-width="2.45" /><line x1="125.2" y1="608.3" x2="139.8" y2="608.3" stroke="#ff7f0e" stroke-width="2.45" /><line x1="125.2" y1="632.7" x2="139.8" y2="632.7" stroke="#ff7f0e" stroke-width="2.45" /><circle cx="132.5" cy="620.5" r="5.15" fill="#ff7f0e"/>
<text x="176.1" y="628.9" font-size="24.3" text-anchor="start" >FermiNet-DMC</text>
<text x="-1" y="556.1" font-size="31" text-anchor="start" font-weight="bold">e</text>
</g>
<g class="mp">
<rect x="1161.4" y="586.7" width="44.3" height="398.3" fill="#1f77b4"/>
<rect x="1205.7" y="840" width="44.3" height="145" fill="#ff7f0e"/>
<rect x="1308.5" y="713.9" width="44.3" height="271.2" fill="#1f77b4"/>
<rect x="1352.8" y="873.5" width="44.3" height="111.5" fill="#ff7f0e"/>
<rect x="1455.6" y="811.1" width="44.3" height="174" fill="#1f77b4"/>
<rect x="1499.9" y="915.2" width="44.3" height="69.8" fill="#ff7f0e"/>
<rect x="1602.7" y="860.8" width="44.3" height="124.3" fill="#1f77b4"/>
<rect x="1647" y="948.3" width="44.3" height="36.8" fill="#ff7f0e"/>
<rect x="1749.8" y="941.9" width="44.3" height="43.1" fill="#1f77b4"/>
<rect x="1794.1" y="959.4" width="44.3" height="25.7" fill="#ff7f0e"/>
<rect x="1896.9" y="981.6" width="44.3" height="3.5" fill="#1f77b4"/>
<rect x="1941.2" y="985" width="44.3" height="3.5" fill="#ff7f0e"/>
<line x1="1120.2" y1="985" x2="2026" y2="985" stroke="#808080" stroke-width="2.0" />
<line x1="1183.5" y1="583.9" x2="1183.5" y2="589.6" stroke="#ff0000" stroke-width="3.4" /><line x1="1173.8" y1="583.9" x2="1193.2" y2="583.9" stroke="#ff0000" stroke-width="2.4" /><line x1="1173.8" y1="589.6" x2="1193.2" y2="589.6" stroke="#ff0000" stroke-width="2.4" />
<line x1="1227.9" y1="834.5" x2="1227.9" y2="845.6" stroke="#ff0000" stroke-width="3.4" /><line x1="1218.2" y1="834.5" x2="1237.6" y2="834.5" stroke="#ff0000" stroke-width="2.4" /><line x1="1218.2" y1="845.6" x2="1237.6" y2="845.6" stroke="#ff0000" stroke-width="2.4" />
<line x1="1330.6" y1="711.6" x2="1330.6" y2="716.1" stroke="#ff0000" stroke-width="3.4" /><line x1="1320.9" y1="711.6" x2="1340.3" y2="711.6" stroke="#ff0000" stroke-width="2.4" /><line x1="1320.9" y1="716.1" x2="1340.3" y2="716.1" stroke="#ff0000" stroke-width="2.4" />
<line x1="1375" y1="869" x2="1375" y2="878" stroke="#ff0000" stroke-width="3.4" /><line x1="1365.2" y1="869" x2="1384.7" y2="869" stroke="#ff0000" stroke-width="2.4" /><line x1="1365.2" y1="878" x2="1384.7" y2="878" stroke="#ff0000" stroke-width="2.4" />
<line x1="1477.8" y1="809" x2="1477.8" y2="813.1" stroke="#ff0000" stroke-width="3.4" /><line x1="1468" y1="809" x2="1487.5" y2="809" stroke="#ff0000" stroke-width="2.4" /><line x1="1468" y1="813.1" x2="1487.5" y2="813.1" stroke="#ff0000" stroke-width="2.4" />
<line x1="1522.1" y1="911.7" x2="1522.1" y2="918.7" stroke="#ff0000" stroke-width="3.4" /><line x1="1512.4" y1="911.7" x2="1531.8" y2="911.7" stroke="#ff0000" stroke-width="2.4" /><line x1="1512.4" y1="918.7" x2="1531.8" y2="918.7" stroke="#ff0000" stroke-width="2.4" />
<line x1="1624.8" y1="859.3" x2="1624.8" y2="862.2" stroke="#ff0000" stroke-width="3.4" /><line x1="1615.1" y1="859.3" x2="1634.5" y2="859.3" stroke="#ff0000" stroke-width="2.4" /><line x1="1615.1" y1="862.2" x2="1634.5" y2="862.2" stroke="#ff0000" stroke-width="2.4" />
<line x1="1669.2" y1="945" x2="1669.2" y2="951.6" stroke="#ff0000" stroke-width="3.4" /><line x1="1659.5" y1="945" x2="1678.9" y2="945" stroke="#ff0000" stroke-width="2.4" /><line x1="1659.5" y1="951.6" x2="1678.9" y2="951.6" stroke="#ff0000" stroke-width="2.4" />
<line x1="1771.9" y1="940.9" x2="1771.9" y2="942.9" stroke="#ff0000" stroke-width="3.4" /><line x1="1762.2" y1="940.9" x2="1781.6" y2="940.9" stroke="#ff0000" stroke-width="2.4" /><line x1="1762.2" y1="942.9" x2="1781.6" y2="942.9" stroke="#ff0000" stroke-width="2.4" />
<line x1="1816.2" y1="957.8" x2="1816.2" y2="960.9" stroke="#ff0000" stroke-width="3.4" /><line x1="1806.5" y1="957.8" x2="1826" y2="957.8" stroke="#ff0000" stroke-width="2.4" /><line x1="1806.5" y1="960.9" x2="1826" y2="960.9" stroke="#ff0000" stroke-width="2.4" />
<line x1="1919" y1="980.5" x2="1919" y2="982.6" stroke="#ff0000" stroke-width="3.4" /><line x1="1909.3" y1="980.5" x2="1928.8" y2="980.5" stroke="#ff0000" stroke-width="2.4" /><line x1="1909.3" y1="982.6" x2="1928.8" y2="982.6" stroke="#ff0000" stroke-width="2.4" />
<line x1="1963.4" y1="987.6" x2="1963.4" y2="989.5" stroke="#ff0000" stroke-width="3.4" /><line x1="1953.7" y1="987.6" x2="1973.1" y2="987.6" stroke="#ff0000" stroke-width="2.4" /><line x1="1953.7" y1="989.5" x2="1973.1" y2="989.5" stroke="#ff0000" stroke-width="2.4" />
<rect x="1120.2" y="563.7" width="905.8" height="446.1" fill="none" stroke="#000" stroke-width="2.1"/>
<line x1="1111.3" y1="985" x2="1120.2" y2="985" stroke="#000" stroke-width="2.0" />
<text x="1103.2" y="994" font-size="24.3" text-anchor="end" >0.0</text>
<line x1="1111.3" y1="933.7" x2="1120.2" y2="933.7" stroke="#000" stroke-width="2.0" />
<text x="1103.2" y="942.7" font-size="24.3" text-anchor="end" >2.5</text>
<line x1="1111.3" y1="882.3" x2="1120.2" y2="882.3" stroke="#000" stroke-width="2.0" />
<text x="1103.2" y="891.3" font-size="24.3" text-anchor="end" >5.0</text>
<line x1="1111.3" y1="831" x2="1120.2" y2="831" stroke="#000" stroke-width="2.0" />
<text x="1103.2" y="840" font-size="24.3" text-anchor="end" >7.5</text>
<line x1="1111.3" y1="779.6" x2="1120.2" y2="779.6" stroke="#000" stroke-width="2.0" />
<text x="1103.2" y="788.6" font-size="24.3" text-anchor="end" >10.0</text>
<line x1="1111.3" y1="728.3" x2="1120.2" y2="728.3" stroke="#000" stroke-width="2.0" />
<text x="1103.2" y="737.3" font-size="24.3" text-anchor="end" >12.5</text>
<line x1="1111.3" y1="676.9" x2="1120.2" y2="676.9" stroke="#000" stroke-width="2.0" />
<text x="1103.2" y="685.9" font-size="24.3" text-anchor="end" >15.0</text>
<line x1="1111.3" y1="625.6" x2="1120.2" y2="625.6" stroke="#000" stroke-width="2.0" />
<text x="1103.2" y="634.6" font-size="24.3" text-anchor="end" >17.5</text>
<line x1="1111.3" y1="574.2" x2="1120.2" y2="574.2" stroke="#000" stroke-width="2.0" />
<text x="1103.2" y="583.2" font-size="24.3" text-anchor="end" >20.0</text>
<line x1="1205.7" y1="1009.8" x2="1205.7" y2="1018.7" stroke="#000" stroke-width="2.0" />
<text x="1205.7" y="1043.7" font-size="24.3" text-anchor="middle" >L2D1</text>
<text x="1205.7" y="1069.9" font-size="24.3" text-anchor="middle" >W(32,4)</text>
<line x1="1352.8" y1="1009.8" x2="1352.8" y2="1018.7" stroke="#000" stroke-width="2.0" />
<text x="1352.8" y="1043.7" font-size="24.3" text-anchor="middle" >L3D1</text>
<text x="1352.8" y="1069.9" font-size="24.3" text-anchor="middle" >W(32,4)</text>
<line x1="1499.9" y1="1009.8" x2="1499.9" y2="1018.7" stroke="#000" stroke-width="2.0" />
<text x="1499.9" y="1043.7" font-size="24.3" text-anchor="middle" >L4D1</text>
<text x="1499.9" y="1069.9" font-size="24.3" text-anchor="middle" >W(32,4)</text>
<line x1="1647" y1="1009.8" x2="1647" y2="1018.7" stroke="#000" stroke-width="2.0" />
<text x="1647" y="1043.7" font-size="24.3" text-anchor="middle" >L4D16</text>
<text x="1647" y="1069.9" font-size="24.3" text-anchor="middle" >W(32,4)</text>
<line x1="1794.1" y1="1009.8" x2="1794.1" y2="1018.7" stroke="#000" stroke-width="2.0" />
<text x="1794.1" y="1043.7" font-size="24.3" text-anchor="middle" >L4D1</text>
<text x="1794.1" y="1069.9" font-size="24.3" text-anchor="middle" >W(256,32)</text>
<line x1="1941.2" y1="1009.8" x2="1941.2" y2="1018.7" stroke="#000" stroke-width="2.0" />
<text x="1941.2" y="1043.7" font-size="24.3" text-anchor="middle" >L4D16</text>
<text x="1941.2" y="1069.9" font-size="24.3" text-anchor="middle" >W(256,32)</text>
<text transform="translate(1037.3 891.1) rotate(-90)" x="-1.9" y="0" font-size="23.9">Energy-<tspan font-family="'DejaVu Sans', sans-serif">E</tspan><tspan font-family="'DejaVu Sans', sans-serif" font-size="16.7" dy="4.0">exact</tspan><tspan font-family="'DejaVu Sans', sans-serif" dy="-4.0">(m</tspan><tspan font-family="'DejaVu Sans', sans-serif" font-style="italic">E</tspan><tspan font-family="'DejaVu Sans', sans-serif" font-size="16.7" dy="4.0">h</tspan><tspan font-family="'DejaVu Sans', sans-serif" dy="-4.0">)</tspan></text>
<rect x="1773.9" y="586.3" width="48.7" height="16.7" fill="#1f77b4"/>
<rect x="1773.9" y="620.3" width="48.7" height="16.7" fill="#ff7f0e"/>
<text x="1841.6" y="602.5" font-size="24.3" text-anchor="start" >FermiNet-VMC</text>
<text x="1841.6" y="636.5" font-size="24.3" text-anchor="start" >FermiNet-DMC</text>
<text x="1020.3" y="556.1" font-size="31" text-anchor="start" font-weight="bold">f</text>
</g>
</svg>
</body></html>
